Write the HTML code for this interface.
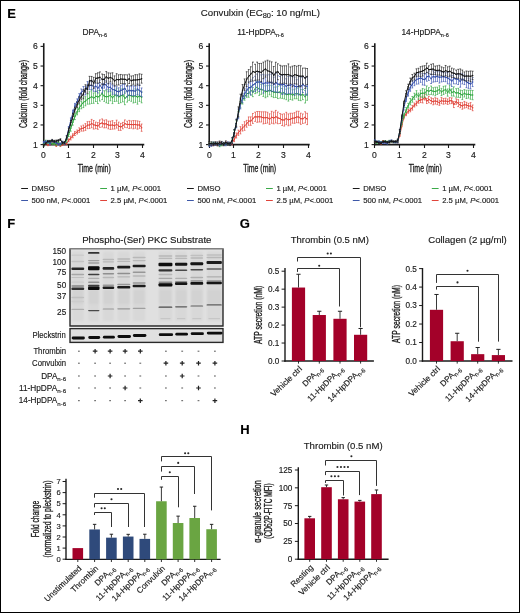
<!DOCTYPE html>
<html><head><meta charset="utf-8"><style>
html,body{margin:0;padding:0;background:#fff;}
body{width:520px;height:613px;overflow:hidden;position:relative;}
svg{position:absolute;left:0;top:0;will-change:transform;}
text{font-family:"Liberation Sans",sans-serif;stroke:currentColor;stroke-width:0.15px;}
.cond{font-weight:normal;stroke:#1a1a1a;stroke-width:0.32px;}
#frame{position:absolute;left:0;top:0;width:518px;height:611px;border:1px solid #000;}
</style></head><body>
<svg width="520" height="613" viewBox="0 0 520 613">
<text x="7.20" y="18.00" font-size="13" text-anchor="start" fill="#000" color="#000" font-weight="bold">E</text>
<text x="7.20" y="228.00" font-size="13" text-anchor="start" fill="#000" color="#000" font-weight="bold">F</text>
<text x="239.80" y="228.00" font-size="13" text-anchor="start" fill="#000" color="#000" font-weight="bold">G</text>
<text x="240.20" y="434.00" font-size="13" text-anchor="start" fill="#000" color="#000" font-weight="bold">H</text>
<text x="260.40" y="15.60" font-size="9.7" text-anchor="middle" fill="#1a1a1a" color="#1a1a1a">Convulxin (EC<tspan font-size="7.4" dy="2.1">80</tspan><tspan dy="-2.1">: 10 ng/mL)</tspan></text>
<text x="94.70" y="35.00" font-size="8.4" text-anchor="middle" fill="#1a1a1a" color="#1a1a1a">DPA<tspan font-size="5.5" dy="1.7">n-6</tspan></text>
<line x1="43.75" y1="43.20" x2="43.75" y2="145.20" stroke="#1a1a1a" stroke-width="1.6"/>
<line x1="40.55" y1="144.60" x2="43.75" y2="144.60" stroke="#1a1a1a" stroke-width="1.1"/>
<text x="37.75" y="147.50" font-size="8.6" text-anchor="end" fill="#1a1a1a" color="#1a1a1a">1</text>
<line x1="40.55" y1="124.96" x2="43.75" y2="124.96" stroke="#1a1a1a" stroke-width="1.1"/>
<text x="37.75" y="127.86" font-size="8.6" text-anchor="end" fill="#1a1a1a" color="#1a1a1a">2</text>
<line x1="40.55" y1="105.32" x2="43.75" y2="105.32" stroke="#1a1a1a" stroke-width="1.1"/>
<text x="37.75" y="108.22" font-size="8.6" text-anchor="end" fill="#1a1a1a" color="#1a1a1a">3</text>
<line x1="40.55" y1="85.68" x2="43.75" y2="85.68" stroke="#1a1a1a" stroke-width="1.1"/>
<text x="37.75" y="88.58" font-size="8.6" text-anchor="end" fill="#1a1a1a" color="#1a1a1a">4</text>
<line x1="40.55" y1="66.04" x2="43.75" y2="66.04" stroke="#1a1a1a" stroke-width="1.1"/>
<text x="37.75" y="68.94" font-size="8.6" text-anchor="end" fill="#1a1a1a" color="#1a1a1a">5</text>
<line x1="40.55" y1="46.40" x2="43.75" y2="46.40" stroke="#1a1a1a" stroke-width="1.1"/>
<text x="37.75" y="49.30" font-size="8.6" text-anchor="end" fill="#1a1a1a" color="#1a1a1a">6</text>
<line x1="42.95" y1="144.60" x2="144.25" y2="144.60" stroke="#1a1a1a" stroke-width="1.6"/>
<line x1="43.50" y1="144.60" x2="43.50" y2="148.00" stroke="#1a1a1a" stroke-width="1.1"/>
<text x="43.50" y="158.40" font-size="8.6" text-anchor="middle" fill="#1a1a1a" color="#1a1a1a">0</text>
<line x1="68.50" y1="144.60" x2="68.50" y2="148.00" stroke="#1a1a1a" stroke-width="1.1"/>
<text x="68.50" y="158.40" font-size="8.6" text-anchor="middle" fill="#1a1a1a" color="#1a1a1a">1</text>
<line x1="93.50" y1="144.60" x2="93.50" y2="148.00" stroke="#1a1a1a" stroke-width="1.1"/>
<text x="93.50" y="158.40" font-size="8.6" text-anchor="middle" fill="#1a1a1a" color="#1a1a1a">2</text>
<line x1="117.50" y1="144.60" x2="117.50" y2="148.00" stroke="#1a1a1a" stroke-width="1.1"/>
<text x="117.50" y="158.40" font-size="8.6" text-anchor="middle" fill="#1a1a1a" color="#1a1a1a">3</text>
<line x1="142.50" y1="144.60" x2="142.50" y2="148.00" stroke="#1a1a1a" stroke-width="1.1"/>
<text x="142.50" y="158.40" font-size="8.6" text-anchor="middle" fill="#1a1a1a" color="#1a1a1a">4</text>
<text x="26.75" y="94.00" font-size="10" text-anchor="middle" fill="#1a1a1a" color="#1a1a1a" font-weight="bold" textLength="68" lengthAdjust="spacingAndGlyphs" transform="rotate(-90 26.75 94.00)" class="cond">Calcium (fold change)</text>
<text x="94.25" y="172.00" font-size="10" text-anchor="middle" fill="#1a1a1a" color="#1a1a1a" font-weight="bold" textLength="33" lengthAdjust="spacingAndGlyphs" class="cond">Time (min)</text>
<line x1="21.20" y1="188.50" x2="28.00" y2="188.50" stroke="#1a1a1a" stroke-width="1.0"/>
<text x="31.60" y="191.20" font-size="7.7" text-anchor="start" fill="#1a1a1a" color="#1a1a1a">DMSO</text>
<line x1="21.20" y1="200.50" x2="28.00" y2="200.50" stroke="#3d58a8" stroke-width="1.0"/>
<text x="31.60" y="202.70" font-size="7.7" text-anchor="start" fill="#1a1a1a" color="#1a1a1a">500 nM, <tspan font-style="italic">P</tspan>&lt;.0001</text>
<line x1="100.20" y1="188.50" x2="107.00" y2="188.50" stroke="#3aaa48" stroke-width="1.0"/>
<text x="110.60" y="191.20" font-size="7.7" text-anchor="start" fill="#1a1a1a" color="#1a1a1a">1 µM, <tspan font-style="italic">P</tspan>&lt;.0001</text>
<line x1="100.20" y1="200.50" x2="107.00" y2="200.50" stroke="#e0443a" stroke-width="1.0"/>
<text x="110.60" y="202.70" font-size="7.7" text-anchor="start" fill="#1a1a1a" color="#1a1a1a">2.5 µM, <tspan font-style="italic">P</tspan>&lt;.0001</text>
<text x="260.50" y="35.00" font-size="8.4" text-anchor="middle" fill="#1a1a1a" color="#1a1a1a">11-HpDPA<tspan font-size="5.5" dy="1.7">n-6</tspan></text>
<line x1="209.20" y1="43.20" x2="209.20" y2="145.20" stroke="#1a1a1a" stroke-width="1.6"/>
<line x1="206.00" y1="144.60" x2="209.20" y2="144.60" stroke="#1a1a1a" stroke-width="1.1"/>
<text x="203.20" y="147.50" font-size="8.6" text-anchor="end" fill="#1a1a1a" color="#1a1a1a">1</text>
<line x1="206.00" y1="124.96" x2="209.20" y2="124.96" stroke="#1a1a1a" stroke-width="1.1"/>
<text x="203.20" y="127.86" font-size="8.6" text-anchor="end" fill="#1a1a1a" color="#1a1a1a">2</text>
<line x1="206.00" y1="105.32" x2="209.20" y2="105.32" stroke="#1a1a1a" stroke-width="1.1"/>
<text x="203.20" y="108.22" font-size="8.6" text-anchor="end" fill="#1a1a1a" color="#1a1a1a">3</text>
<line x1="206.00" y1="85.68" x2="209.20" y2="85.68" stroke="#1a1a1a" stroke-width="1.1"/>
<text x="203.20" y="88.58" font-size="8.6" text-anchor="end" fill="#1a1a1a" color="#1a1a1a">4</text>
<line x1="206.00" y1="66.04" x2="209.20" y2="66.04" stroke="#1a1a1a" stroke-width="1.1"/>
<text x="203.20" y="68.94" font-size="8.6" text-anchor="end" fill="#1a1a1a" color="#1a1a1a">5</text>
<line x1="206.00" y1="46.40" x2="209.20" y2="46.40" stroke="#1a1a1a" stroke-width="1.1"/>
<text x="203.20" y="49.30" font-size="8.6" text-anchor="end" fill="#1a1a1a" color="#1a1a1a">6</text>
<line x1="208.40" y1="144.60" x2="309.70" y2="144.60" stroke="#1a1a1a" stroke-width="1.6"/>
<line x1="209.50" y1="144.60" x2="209.50" y2="148.00" stroke="#1a1a1a" stroke-width="1.1"/>
<text x="209.50" y="158.40" font-size="8.6" text-anchor="middle" fill="#1a1a1a" color="#1a1a1a">0</text>
<line x1="233.50" y1="144.60" x2="233.50" y2="148.00" stroke="#1a1a1a" stroke-width="1.1"/>
<text x="233.50" y="158.40" font-size="8.6" text-anchor="middle" fill="#1a1a1a" color="#1a1a1a">1</text>
<line x1="258.50" y1="144.60" x2="258.50" y2="148.00" stroke="#1a1a1a" stroke-width="1.1"/>
<text x="258.50" y="158.40" font-size="8.6" text-anchor="middle" fill="#1a1a1a" color="#1a1a1a">2</text>
<line x1="283.50" y1="144.60" x2="283.50" y2="148.00" stroke="#1a1a1a" stroke-width="1.1"/>
<text x="283.50" y="158.40" font-size="8.6" text-anchor="middle" fill="#1a1a1a" color="#1a1a1a">3</text>
<line x1="308.50" y1="144.60" x2="308.50" y2="148.00" stroke="#1a1a1a" stroke-width="1.1"/>
<text x="308.50" y="158.40" font-size="8.6" text-anchor="middle" fill="#1a1a1a" color="#1a1a1a">4</text>
<text x="192.20" y="94.00" font-size="10" text-anchor="middle" fill="#1a1a1a" color="#1a1a1a" font-weight="bold" textLength="68" lengthAdjust="spacingAndGlyphs" transform="rotate(-90 192.20 94.00)" class="cond">Calcium (fold change)</text>
<text x="259.70" y="172.00" font-size="10" text-anchor="middle" fill="#1a1a1a" color="#1a1a1a" font-weight="bold" textLength="33" lengthAdjust="spacingAndGlyphs" class="cond">Time (min)</text>
<line x1="187.00" y1="188.50" x2="193.80" y2="188.50" stroke="#1a1a1a" stroke-width="1.0"/>
<text x="197.40" y="191.20" font-size="7.7" text-anchor="start" fill="#1a1a1a" color="#1a1a1a">DMSO</text>
<line x1="187.00" y1="200.50" x2="193.80" y2="200.50" stroke="#3d58a8" stroke-width="1.0"/>
<text x="197.40" y="202.70" font-size="7.7" text-anchor="start" fill="#1a1a1a" color="#1a1a1a">500 nM, <tspan font-style="italic">P</tspan>&lt;.0001</text>
<line x1="266.00" y1="188.50" x2="272.80" y2="188.50" stroke="#3aaa48" stroke-width="1.0"/>
<text x="276.40" y="191.20" font-size="7.7" text-anchor="start" fill="#1a1a1a" color="#1a1a1a">1 µM, <tspan font-style="italic">P</tspan>&lt;.0001</text>
<line x1="266.00" y1="200.50" x2="272.80" y2="200.50" stroke="#e0443a" stroke-width="1.0"/>
<text x="276.40" y="202.70" font-size="7.7" text-anchor="start" fill="#1a1a1a" color="#1a1a1a">2.5 µM, <tspan font-style="italic">P</tspan>&lt;.0001</text>
<text x="425.10" y="35.00" font-size="8.4" text-anchor="middle" fill="#1a1a1a" color="#1a1a1a">14-HpDPA<tspan font-size="5.5" dy="1.7">n-6</tspan></text>
<line x1="374.80" y1="43.20" x2="374.80" y2="145.20" stroke="#1a1a1a" stroke-width="1.6"/>
<line x1="371.60" y1="144.60" x2="374.80" y2="144.60" stroke="#1a1a1a" stroke-width="1.1"/>
<text x="368.80" y="147.50" font-size="8.6" text-anchor="end" fill="#1a1a1a" color="#1a1a1a">1</text>
<line x1="371.60" y1="124.96" x2="374.80" y2="124.96" stroke="#1a1a1a" stroke-width="1.1"/>
<text x="368.80" y="127.86" font-size="8.6" text-anchor="end" fill="#1a1a1a" color="#1a1a1a">2</text>
<line x1="371.60" y1="105.32" x2="374.80" y2="105.32" stroke="#1a1a1a" stroke-width="1.1"/>
<text x="368.80" y="108.22" font-size="8.6" text-anchor="end" fill="#1a1a1a" color="#1a1a1a">3</text>
<line x1="371.60" y1="85.68" x2="374.80" y2="85.68" stroke="#1a1a1a" stroke-width="1.1"/>
<text x="368.80" y="88.58" font-size="8.6" text-anchor="end" fill="#1a1a1a" color="#1a1a1a">4</text>
<line x1="371.60" y1="66.04" x2="374.80" y2="66.04" stroke="#1a1a1a" stroke-width="1.1"/>
<text x="368.80" y="68.94" font-size="8.6" text-anchor="end" fill="#1a1a1a" color="#1a1a1a">5</text>
<line x1="371.60" y1="46.40" x2="374.80" y2="46.40" stroke="#1a1a1a" stroke-width="1.1"/>
<text x="368.80" y="49.30" font-size="8.6" text-anchor="end" fill="#1a1a1a" color="#1a1a1a">6</text>
<line x1="374.00" y1="144.60" x2="475.30" y2="144.60" stroke="#1a1a1a" stroke-width="1.6"/>
<line x1="374.50" y1="144.60" x2="374.50" y2="148.00" stroke="#1a1a1a" stroke-width="1.1"/>
<text x="374.50" y="158.40" font-size="8.6" text-anchor="middle" fill="#1a1a1a" color="#1a1a1a">0</text>
<line x1="399.50" y1="144.60" x2="399.50" y2="148.00" stroke="#1a1a1a" stroke-width="1.1"/>
<text x="399.50" y="158.40" font-size="8.6" text-anchor="middle" fill="#1a1a1a" color="#1a1a1a">1</text>
<line x1="424.50" y1="144.60" x2="424.50" y2="148.00" stroke="#1a1a1a" stroke-width="1.1"/>
<text x="424.50" y="158.40" font-size="8.6" text-anchor="middle" fill="#1a1a1a" color="#1a1a1a">2</text>
<line x1="448.50" y1="144.60" x2="448.50" y2="148.00" stroke="#1a1a1a" stroke-width="1.1"/>
<text x="448.50" y="158.40" font-size="8.6" text-anchor="middle" fill="#1a1a1a" color="#1a1a1a">3</text>
<line x1="473.50" y1="144.60" x2="473.50" y2="148.00" stroke="#1a1a1a" stroke-width="1.1"/>
<text x="473.50" y="158.40" font-size="8.6" text-anchor="middle" fill="#1a1a1a" color="#1a1a1a">4</text>
<text x="357.80" y="94.00" font-size="10" text-anchor="middle" fill="#1a1a1a" color="#1a1a1a" font-weight="bold" textLength="68" lengthAdjust="spacingAndGlyphs" transform="rotate(-90 357.80 94.00)" class="cond">Calcium (fold change)</text>
<text x="425.30" y="172.00" font-size="10" text-anchor="middle" fill="#1a1a1a" color="#1a1a1a" font-weight="bold" textLength="33" lengthAdjust="spacingAndGlyphs" class="cond">Time (min)</text>
<line x1="352.80" y1="188.50" x2="359.60" y2="188.50" stroke="#1a1a1a" stroke-width="1.0"/>
<text x="363.20" y="191.20" font-size="7.7" text-anchor="start" fill="#1a1a1a" color="#1a1a1a">DMSO</text>
<line x1="352.80" y1="200.50" x2="359.60" y2="200.50" stroke="#3d58a8" stroke-width="1.0"/>
<text x="363.20" y="202.70" font-size="7.7" text-anchor="start" fill="#1a1a1a" color="#1a1a1a">500 nM, <tspan font-style="italic">P</tspan>&lt;.0001</text>
<line x1="431.80" y1="188.50" x2="438.60" y2="188.50" stroke="#3aaa48" stroke-width="1.0"/>
<text x="442.20" y="191.20" font-size="7.7" text-anchor="start" fill="#1a1a1a" color="#1a1a1a">1 µM, <tspan font-style="italic">P</tspan>&lt;.0001</text>
<line x1="431.80" y1="200.50" x2="438.60" y2="200.50" stroke="#e0443a" stroke-width="1.0"/>
<text x="442.20" y="202.70" font-size="7.7" text-anchor="start" fill="#1a1a1a" color="#1a1a1a">2.5 µM, <tspan font-style="italic">P</tspan>&lt;.0001</text>
<path d="M43.50 143.75V145.16M45.50 143.12V144.29M47.50 144.54V145.70M49.50 143.74V145.09M52.50 142.61V143.77M54.50 143.38V144.55M56.50 145.25V146.44M58.50 142.75V143.98M60.50 145.18V146.56M62.50 144.07V145.37M64.50 143.37V144.86M66.50 142.12V144.55M68.50 138.87V141.69M70.50 136.12V139.86M72.50 133.77V137.74M74.50 131.48V135.52M77.50 130.05V134.01M79.50 127.89V132.43M81.50 126.03V131.12M83.50 125.14V131.11M85.50 123.61V130.39M87.50 121.66V128.68M89.50 121.40V128.46M91.50 119.40V127.68M93.50 120.50V129.10M95.50 122.11V128.67M97.50 122.62V129.27M99.50 119.91V127.35M102.50 118.94V127.03M104.50 120.20V127.84M106.50 119.80V127.73M108.50 121.13V128.81M110.50 121.19V129.45M112.50 120.64V129.15M114.50 122.59V129.02M116.50 120.17V128.10M118.50 122.13V130.35M120.50 123.41V130.36M122.50 122.42V128.75M124.50 119.94V127.32M127.50 121.27V127.69M129.50 120.40V128.49M131.50 120.92V128.13M133.50 120.50V128.84M135.50 120.66V128.24M137.50 120.86V129.22M139.50 121.43V128.37M141.50 124.02V131.29" stroke="#e4615a" stroke-width="0.75" fill="none"/>
<path d="M42.85 143.75h1.8M42.85 145.16h1.8M44.93 143.12h1.8M44.93 144.29h1.8M47.02 144.54h1.8M47.02 145.70h1.8M49.10 143.74h1.8M49.10 145.09h1.8M51.18 142.61h1.8M51.18 143.77h1.8M53.26 143.38h1.8M53.26 144.55h1.8M55.35 145.25h1.8M55.35 146.44h1.8M57.43 142.75h1.8M57.43 143.98h1.8M59.51 145.18h1.8M59.51 146.56h1.8M61.60 144.07h1.8M61.60 145.37h1.8M63.68 143.37h1.8M63.68 144.86h1.8M65.76 142.12h1.8M65.76 144.55h1.8M67.84 138.87h1.8M67.84 141.69h1.8M69.93 136.12h1.8M69.93 139.86h1.8M72.01 133.77h1.8M72.01 137.74h1.8M74.09 131.48h1.8M74.09 135.52h1.8M76.17 130.05h1.8M76.17 134.01h1.8M78.26 127.89h1.8M78.26 132.43h1.8M80.34 126.03h1.8M80.34 131.12h1.8M82.42 125.14h1.8M82.42 131.11h1.8M84.51 123.61h1.8M84.51 130.39h1.8M86.59 121.66h1.8M86.59 128.68h1.8M88.67 121.40h1.8M88.67 128.46h1.8M90.75 119.40h1.8M90.75 127.68h1.8M92.84 120.50h1.8M92.84 129.10h1.8M94.92 122.11h1.8M94.92 128.67h1.8M97.00 122.62h1.8M97.00 129.27h1.8M99.09 119.91h1.8M99.09 127.35h1.8M101.17 118.94h1.8M101.17 127.03h1.8M103.25 120.20h1.8M103.25 127.84h1.8M105.33 119.80h1.8M105.33 127.73h1.8M107.42 121.13h1.8M107.42 128.81h1.8M109.50 121.19h1.8M109.50 129.45h1.8M111.58 120.64h1.8M111.58 129.15h1.8M113.66 122.59h1.8M113.66 129.02h1.8M115.75 120.17h1.8M115.75 128.10h1.8M117.83 122.13h1.8M117.83 130.35h1.8M119.91 123.41h1.8M119.91 130.36h1.8M122.00 122.42h1.8M122.00 128.75h1.8M124.08 119.94h1.8M124.08 127.32h1.8M126.16 121.27h1.8M126.16 127.69h1.8M128.24 120.40h1.8M128.24 128.49h1.8M130.33 120.92h1.8M130.33 128.13h1.8M132.41 120.50h1.8M132.41 128.84h1.8M134.49 120.66h1.8M134.49 128.24h1.8M136.58 120.86h1.8M136.58 129.22h1.8M138.66 121.43h1.8M138.66 128.37h1.8M140.74 124.02h1.8M140.74 131.29h1.8" stroke="#e0443a" stroke-opacity="0.75" stroke-width="0.9" fill="none"/>
<path d="M43.75 144.46 L45.83 143.70 L47.92 145.12 L50.00 144.42 L52.08 143.19 L54.16 143.96 L56.25 145.84 L58.33 143.37 L60.41 145.87 L62.50 144.72 L64.58 144.12 L66.66 143.33 L68.74 140.28 L70.83 137.99 L72.91 135.76 L74.99 133.50 L77.07 132.03 L79.16 130.16 L81.24 128.58 L83.32 128.13 L85.41 127.00 L87.49 125.17 L89.57 124.93 L91.65 123.54 L93.74 124.80 L95.82 125.39 L97.90 125.94 L99.99 123.63 L102.07 122.98 L104.15 124.02 L106.23 123.77 L108.32 124.97 L110.40 125.32 L112.48 124.89 L114.56 125.80 L116.65 124.14 L118.73 126.24 L120.81 126.88 L122.90 125.59 L124.98 123.63 L127.06 124.48 L129.14 124.45 L131.23 124.53 L133.31 124.67 L135.39 124.45 L137.48 125.04 L139.56 124.90 L141.64 127.66" stroke="#e0443a" stroke-width="1" fill="none" stroke-linejoin="round"/>
<g fill="#e0443a"><circle cx="43.75" cy="144.46" r="0.75"/><circle cx="45.83" cy="143.70" r="0.75"/><circle cx="47.92" cy="145.12" r="0.75"/><circle cx="50.00" cy="144.42" r="0.75"/><circle cx="52.08" cy="143.19" r="0.75"/><circle cx="54.16" cy="143.96" r="0.75"/><circle cx="56.25" cy="145.84" r="0.75"/><circle cx="58.33" cy="143.37" r="0.75"/><circle cx="60.41" cy="145.87" r="0.75"/><circle cx="62.50" cy="144.72" r="0.75"/><circle cx="64.58" cy="144.12" r="0.75"/><circle cx="66.66" cy="143.33" r="0.75"/><circle cx="68.74" cy="140.28" r="0.75"/><circle cx="70.83" cy="137.99" r="0.75"/><circle cx="72.91" cy="135.76" r="0.75"/><circle cx="74.99" cy="133.50" r="0.75"/><circle cx="77.07" cy="132.03" r="0.75"/><circle cx="79.16" cy="130.16" r="0.75"/><circle cx="81.24" cy="128.58" r="0.75"/><circle cx="83.32" cy="128.13" r="0.75"/><circle cx="85.41" cy="127.00" r="0.75"/><circle cx="87.49" cy="125.17" r="0.75"/><circle cx="89.57" cy="124.93" r="0.75"/><circle cx="91.65" cy="123.54" r="0.75"/><circle cx="93.74" cy="124.80" r="0.75"/><circle cx="95.82" cy="125.39" r="0.75"/><circle cx="97.90" cy="125.94" r="0.75"/><circle cx="99.99" cy="123.63" r="0.75"/><circle cx="102.07" cy="122.98" r="0.75"/><circle cx="104.15" cy="124.02" r="0.75"/><circle cx="106.23" cy="123.77" r="0.75"/><circle cx="108.32" cy="124.97" r="0.75"/><circle cx="110.40" cy="125.32" r="0.75"/><circle cx="112.48" cy="124.89" r="0.75"/><circle cx="114.56" cy="125.80" r="0.75"/><circle cx="116.65" cy="124.14" r="0.75"/><circle cx="118.73" cy="126.24" r="0.75"/><circle cx="120.81" cy="126.88" r="0.75"/><circle cx="122.90" cy="125.59" r="0.75"/><circle cx="124.98" cy="123.63" r="0.75"/><circle cx="127.06" cy="124.48" r="0.75"/><circle cx="129.14" cy="124.45" r="0.75"/><circle cx="131.23" cy="124.53" r="0.75"/><circle cx="133.31" cy="124.67" r="0.75"/><circle cx="135.39" cy="124.45" r="0.75"/><circle cx="137.48" cy="125.04" r="0.75"/><circle cx="139.56" cy="124.90" r="0.75"/><circle cx="141.64" cy="127.66" r="0.75"/></g>
<path d="M43.50 143.34V145.80M45.50 140.18V142.09M47.50 141.66V143.63M49.50 141.19V143.33M52.50 142.90V144.71M54.50 142.47V144.56M56.50 142.84V145.29M58.50 140.77V143.05M60.50 143.52V145.79M62.50 142.15V144.00M64.50 141.33V143.73M66.50 137.97V142.52M68.50 132.30V136.50M70.50 125.47V131.15M72.50 119.58V125.11M74.50 113.57V119.58M77.50 108.66V114.87M79.50 104.52V111.64M81.50 101.46V108.81M83.50 97.21V107.59M85.50 96.67V105.82M87.50 94.10V104.16M89.50 91.68V104.12M91.50 89.79V103.48M93.50 92.91V103.29M95.50 91.06V101.50M97.50 90.40V103.58M99.50 90.38V101.04M102.50 87.59V99.64M104.50 90.76V101.37M106.50 90.72V102.77M108.50 89.68V103.43M110.50 89.77V100.81M112.50 92.14V103.58M114.50 89.44V101.51M116.50 88.23V101.22M118.50 90.33V103.44M120.50 88.88V102.65M122.50 88.67V101.81M124.50 91.85V104.69M127.50 90.71V102.10M129.50 90.18V100.34M131.50 90.28V101.31M133.50 90.30V102.96M135.50 88.83V102.42M137.50 90.38V104.17M139.50 90.47V101.36M141.50 91.90V102.82" stroke="#55b862" stroke-width="0.75" fill="none"/>
<path d="M42.85 143.34h1.8M42.85 145.80h1.8M44.93 140.18h1.8M44.93 142.09h1.8M47.02 141.66h1.8M47.02 143.63h1.8M49.10 141.19h1.8M49.10 143.33h1.8M51.18 142.90h1.8M51.18 144.71h1.8M53.26 142.47h1.8M53.26 144.56h1.8M55.35 142.84h1.8M55.35 145.29h1.8M57.43 140.77h1.8M57.43 143.05h1.8M59.51 143.52h1.8M59.51 145.79h1.8M61.60 142.15h1.8M61.60 144.00h1.8M63.68 141.33h1.8M63.68 143.73h1.8M65.76 137.97h1.8M65.76 142.52h1.8M67.84 132.30h1.8M67.84 136.50h1.8M69.93 125.47h1.8M69.93 131.15h1.8M72.01 119.58h1.8M72.01 125.11h1.8M74.09 113.57h1.8M74.09 119.58h1.8M76.17 108.66h1.8M76.17 114.87h1.8M78.26 104.52h1.8M78.26 111.64h1.8M80.34 101.46h1.8M80.34 108.81h1.8M82.42 97.21h1.8M82.42 107.59h1.8M84.51 96.67h1.8M84.51 105.82h1.8M86.59 94.10h1.8M86.59 104.16h1.8M88.67 91.68h1.8M88.67 104.12h1.8M90.75 89.79h1.8M90.75 103.48h1.8M92.84 92.91h1.8M92.84 103.29h1.8M94.92 91.06h1.8M94.92 101.50h1.8M97.00 90.40h1.8M97.00 103.58h1.8M99.09 90.38h1.8M99.09 101.04h1.8M101.17 87.59h1.8M101.17 99.64h1.8M103.25 90.76h1.8M103.25 101.37h1.8M105.33 90.72h1.8M105.33 102.77h1.8M107.42 89.68h1.8M107.42 103.43h1.8M109.50 89.77h1.8M109.50 100.81h1.8M111.58 92.14h1.8M111.58 103.58h1.8M113.66 89.44h1.8M113.66 101.51h1.8M115.75 88.23h1.8M115.75 101.22h1.8M117.83 90.33h1.8M117.83 103.44h1.8M119.91 88.88h1.8M119.91 102.65h1.8M122.00 88.67h1.8M122.00 101.81h1.8M124.08 91.85h1.8M124.08 104.69h1.8M126.16 90.71h1.8M126.16 102.10h1.8M128.24 90.18h1.8M128.24 100.34h1.8M130.33 90.28h1.8M130.33 101.31h1.8M132.41 90.30h1.8M132.41 102.96h1.8M134.49 88.83h1.8M134.49 102.42h1.8M136.58 90.38h1.8M136.58 104.17h1.8M138.66 90.47h1.8M138.66 101.36h1.8M140.74 91.90h1.8M140.74 102.82h1.8" stroke="#35a844" stroke-opacity="0.75" stroke-width="0.9" fill="none"/>
<path d="M43.75 144.57 L45.83 141.13 L47.92 142.65 L50.00 142.26 L52.08 143.81 L54.16 143.52 L56.25 144.07 L58.33 141.91 L60.41 144.65 L62.50 143.08 L64.58 142.53 L66.66 140.25 L68.74 134.40 L70.83 128.31 L72.91 122.34 L74.99 116.57 L77.07 111.77 L79.16 108.08 L81.24 105.14 L83.32 102.40 L85.41 101.24 L87.49 99.13 L89.57 97.90 L91.65 96.64 L93.74 98.10 L95.82 96.28 L97.90 96.99 L99.99 95.71 L102.07 93.62 L104.15 96.06 L106.23 96.75 L108.32 96.56 L110.40 95.29 L112.48 97.86 L114.56 95.47 L116.65 94.72 L118.73 96.89 L120.81 95.76 L122.90 95.24 L124.98 98.27 L127.06 96.41 L129.14 95.26 L131.23 95.79 L133.31 96.63 L135.39 95.63 L137.48 97.27 L139.56 95.91 L141.64 97.36" stroke="#35a844" stroke-width="1" fill="none" stroke-linejoin="round"/>
<g fill="#35a844"><circle cx="43.75" cy="144.57" r="0.75"/><circle cx="45.83" cy="141.13" r="0.75"/><circle cx="47.92" cy="142.65" r="0.75"/><circle cx="50.00" cy="142.26" r="0.75"/><circle cx="52.08" cy="143.81" r="0.75"/><circle cx="54.16" cy="143.52" r="0.75"/><circle cx="56.25" cy="144.07" r="0.75"/><circle cx="58.33" cy="141.91" r="0.75"/><circle cx="60.41" cy="144.65" r="0.75"/><circle cx="62.50" cy="143.08" r="0.75"/><circle cx="64.58" cy="142.53" r="0.75"/><circle cx="66.66" cy="140.25" r="0.75"/><circle cx="68.74" cy="134.40" r="0.75"/><circle cx="70.83" cy="128.31" r="0.75"/><circle cx="72.91" cy="122.34" r="0.75"/><circle cx="74.99" cy="116.57" r="0.75"/><circle cx="77.07" cy="111.77" r="0.75"/><circle cx="79.16" cy="108.08" r="0.75"/><circle cx="81.24" cy="105.14" r="0.75"/><circle cx="83.32" cy="102.40" r="0.75"/><circle cx="85.41" cy="101.24" r="0.75"/><circle cx="87.49" cy="99.13" r="0.75"/><circle cx="89.57" cy="97.90" r="0.75"/><circle cx="91.65" cy="96.64" r="0.75"/><circle cx="93.74" cy="98.10" r="0.75"/><circle cx="95.82" cy="96.28" r="0.75"/><circle cx="97.90" cy="96.99" r="0.75"/><circle cx="99.99" cy="95.71" r="0.75"/><circle cx="102.07" cy="93.62" r="0.75"/><circle cx="104.15" cy="96.06" r="0.75"/><circle cx="106.23" cy="96.75" r="0.75"/><circle cx="108.32" cy="96.56" r="0.75"/><circle cx="110.40" cy="95.29" r="0.75"/><circle cx="112.48" cy="97.86" r="0.75"/><circle cx="114.56" cy="95.47" r="0.75"/><circle cx="116.65" cy="94.72" r="0.75"/><circle cx="118.73" cy="96.89" r="0.75"/><circle cx="120.81" cy="95.76" r="0.75"/><circle cx="122.90" cy="95.24" r="0.75"/><circle cx="124.98" cy="98.27" r="0.75"/><circle cx="127.06" cy="96.41" r="0.75"/><circle cx="129.14" cy="95.26" r="0.75"/><circle cx="131.23" cy="95.79" r="0.75"/><circle cx="133.31" cy="96.63" r="0.75"/><circle cx="135.39" cy="95.63" r="0.75"/><circle cx="137.48" cy="97.27" r="0.75"/><circle cx="139.56" cy="95.91" r="0.75"/><circle cx="141.64" cy="97.36" r="0.75"/></g>
<path d="M43.50 141.46V143.20M45.50 140.81V142.70M47.50 140.91V142.67M49.50 143.04V144.88M52.50 139.95V141.84M54.50 140.70V142.52M56.50 141.88V143.39M58.50 143.29V145.12M60.50 142.90V144.82M62.50 141.18V142.80M64.50 142.55V144.35M66.50 135.74V138.66M68.50 126.55V130.78M70.50 117.88V122.54M72.50 110.05V115.53M74.50 103.39V108.91M77.50 98.98V104.06M79.50 93.68V98.98M81.50 89.00V95.82M83.50 86.55V94.80M85.50 86.43V94.99M87.50 81.57V89.07M89.50 81.68V89.72M91.50 80.27V89.78M93.50 83.12V91.36M95.50 80.94V91.48M97.50 83.40V92.97M99.50 79.98V90.50M102.50 83.57V92.90M104.50 78.68V88.10M106.50 80.64V89.79M108.50 83.43V91.83M110.50 82.96V91.32M112.50 84.92V94.17M114.50 85.47V94.29M116.50 86.65V96.03M118.50 87.79V95.96M120.50 85.68V95.18M122.50 84.53V94.66M124.50 83.83V93.18M127.50 86.49V97.03M129.50 85.91V95.07M131.50 86.17V95.53M133.50 85.72V95.62M135.50 86.60V95.86M137.50 83.79V94.42M139.50 85.17V95.81M141.50 87.97V96.59" stroke="#5d72c4" stroke-width="0.75" fill="none"/>
<path d="M42.85 141.46h1.8M42.85 143.20h1.8M44.93 140.81h1.8M44.93 142.70h1.8M47.02 140.91h1.8M47.02 142.67h1.8M49.10 143.04h1.8M49.10 144.88h1.8M51.18 139.95h1.8M51.18 141.84h1.8M53.26 140.70h1.8M53.26 142.52h1.8M55.35 141.88h1.8M55.35 143.39h1.8M57.43 143.29h1.8M57.43 145.12h1.8M59.51 142.90h1.8M59.51 144.82h1.8M61.60 141.18h1.8M61.60 142.80h1.8M63.68 142.55h1.8M63.68 144.35h1.8M65.76 135.74h1.8M65.76 138.66h1.8M67.84 126.55h1.8M67.84 130.78h1.8M69.93 117.88h1.8M69.93 122.54h1.8M72.01 110.05h1.8M72.01 115.53h1.8M74.09 103.39h1.8M74.09 108.91h1.8M76.17 98.98h1.8M76.17 104.06h1.8M78.26 93.68h1.8M78.26 98.98h1.8M80.34 89.00h1.8M80.34 95.82h1.8M82.42 86.55h1.8M82.42 94.80h1.8M84.51 86.43h1.8M84.51 94.99h1.8M86.59 81.57h1.8M86.59 89.07h1.8M88.67 81.68h1.8M88.67 89.72h1.8M90.75 80.27h1.8M90.75 89.78h1.8M92.84 83.12h1.8M92.84 91.36h1.8M94.92 80.94h1.8M94.92 91.48h1.8M97.00 83.40h1.8M97.00 92.97h1.8M99.09 79.98h1.8M99.09 90.50h1.8M101.17 83.57h1.8M101.17 92.90h1.8M103.25 78.68h1.8M103.25 88.10h1.8M105.33 80.64h1.8M105.33 89.79h1.8M107.42 83.43h1.8M107.42 91.83h1.8M109.50 82.96h1.8M109.50 91.32h1.8M111.58 84.92h1.8M111.58 94.17h1.8M113.66 85.47h1.8M113.66 94.29h1.8M115.75 86.65h1.8M115.75 96.03h1.8M117.83 87.79h1.8M117.83 95.96h1.8M119.91 85.68h1.8M119.91 95.18h1.8M122.00 84.53h1.8M122.00 94.66h1.8M124.08 83.83h1.8M124.08 93.18h1.8M126.16 86.49h1.8M126.16 97.03h1.8M128.24 85.91h1.8M128.24 95.07h1.8M130.33 86.17h1.8M130.33 95.53h1.8M132.41 85.72h1.8M132.41 95.62h1.8M134.49 86.60h1.8M134.49 95.86h1.8M136.58 83.79h1.8M136.58 94.42h1.8M138.66 85.17h1.8M138.66 95.81h1.8M140.74 87.97h1.8M140.74 96.59h1.8" stroke="#3550a8" stroke-opacity="0.75" stroke-width="0.9" fill="none"/>
<path d="M43.75 142.33 L45.83 141.76 L47.92 141.79 L50.00 143.96 L52.08 140.89 L54.16 141.61 L56.25 142.63 L58.33 144.20 L60.41 143.86 L62.50 141.99 L64.58 143.45 L66.66 137.20 L68.74 128.67 L70.83 120.21 L72.91 112.79 L74.99 106.15 L77.07 101.52 L79.16 96.33 L81.24 92.41 L83.32 90.67 L85.41 90.71 L87.49 85.32 L89.57 85.70 L91.65 85.02 L93.74 87.24 L95.82 86.21 L97.90 88.18 L99.99 85.24 L102.07 88.24 L104.15 83.39 L106.23 85.22 L108.32 87.63 L110.40 87.14 L112.48 89.55 L114.56 89.88 L116.65 91.34 L118.73 91.87 L120.81 90.43 L122.90 89.60 L124.98 88.50 L127.06 91.76 L129.14 90.49 L131.23 90.85 L133.31 90.67 L135.39 91.23 L137.48 89.11 L139.56 90.49 L141.64 92.28" stroke="#3550a8" stroke-width="1" fill="none" stroke-linejoin="round"/>
<g fill="#3550a8"><circle cx="43.75" cy="142.33" r="0.75"/><circle cx="45.83" cy="141.76" r="0.75"/><circle cx="47.92" cy="141.79" r="0.75"/><circle cx="50.00" cy="143.96" r="0.75"/><circle cx="52.08" cy="140.89" r="0.75"/><circle cx="54.16" cy="141.61" r="0.75"/><circle cx="56.25" cy="142.63" r="0.75"/><circle cx="58.33" cy="144.20" r="0.75"/><circle cx="60.41" cy="143.86" r="0.75"/><circle cx="62.50" cy="141.99" r="0.75"/><circle cx="64.58" cy="143.45" r="0.75"/><circle cx="66.66" cy="137.20" r="0.75"/><circle cx="68.74" cy="128.67" r="0.75"/><circle cx="70.83" cy="120.21" r="0.75"/><circle cx="72.91" cy="112.79" r="0.75"/><circle cx="74.99" cy="106.15" r="0.75"/><circle cx="77.07" cy="101.52" r="0.75"/><circle cx="79.16" cy="96.33" r="0.75"/><circle cx="81.24" cy="92.41" r="0.75"/><circle cx="83.32" cy="90.67" r="0.75"/><circle cx="85.41" cy="90.71" r="0.75"/><circle cx="87.49" cy="85.32" r="0.75"/><circle cx="89.57" cy="85.70" r="0.75"/><circle cx="91.65" cy="85.02" r="0.75"/><circle cx="93.74" cy="87.24" r="0.75"/><circle cx="95.82" cy="86.21" r="0.75"/><circle cx="97.90" cy="88.18" r="0.75"/><circle cx="99.99" cy="85.24" r="0.75"/><circle cx="102.07" cy="88.24" r="0.75"/><circle cx="104.15" cy="83.39" r="0.75"/><circle cx="106.23" cy="85.22" r="0.75"/><circle cx="108.32" cy="87.63" r="0.75"/><circle cx="110.40" cy="87.14" r="0.75"/><circle cx="112.48" cy="89.55" r="0.75"/><circle cx="114.56" cy="89.88" r="0.75"/><circle cx="116.65" cy="91.34" r="0.75"/><circle cx="118.73" cy="91.87" r="0.75"/><circle cx="120.81" cy="90.43" r="0.75"/><circle cx="122.90" cy="89.60" r="0.75"/><circle cx="124.98" cy="88.50" r="0.75"/><circle cx="127.06" cy="91.76" r="0.75"/><circle cx="129.14" cy="90.49" r="0.75"/><circle cx="131.23" cy="90.85" r="0.75"/><circle cx="133.31" cy="90.67" r="0.75"/><circle cx="135.39" cy="91.23" r="0.75"/><circle cx="137.48" cy="89.11" r="0.75"/><circle cx="139.56" cy="90.49" r="0.75"/><circle cx="141.64" cy="92.28" r="0.75"/></g>
<path d="M43.50 144.30V146.31M45.50 142.64V144.25M47.50 140.39V141.96M49.50 140.38V142.05M52.50 139.42V141.40M54.50 140.32V142.36M56.50 140.06V141.96M58.50 139.64V141.25M60.50 138.75V140.40M62.50 141.93V144.00M64.50 141.58V143.67M66.50 135.83V139.71M68.50 128.09V132.17M70.50 120.64V125.00M72.50 113.64V119.14M74.50 107.30V112.12M77.50 102.17V107.44M79.50 96.95V103.34M81.50 93.67V99.96M83.50 89.72V98.76M85.50 84.75V92.08M87.50 85.10V93.35M89.50 76.36V85.13M91.50 76.46V85.29M93.50 77.36V88.45M95.50 73.71V83.02M97.50 72.82V83.12M99.50 71.94V82.66M102.50 74.05V84.72M104.50 74.62V84.45M106.50 71.62V82.12M108.50 72.84V83.88M110.50 73.10V81.79M112.50 72.81V84.04M114.50 75.86V86.11M116.50 73.71V85.15M118.50 74.79V84.95M120.50 74.46V83.70M122.50 74.86V83.51M124.50 74.76V83.89M127.50 74.87V85.77M129.50 74.12V83.53M131.50 76.02V85.61M133.50 75.73V84.27M135.50 74.63V85.45M137.50 74.72V84.96M139.50 73.82V85.28M141.50 74.30V83.13" stroke="#555555" stroke-width="0.75" fill="none"/>
<path d="M42.85 144.30h1.8M42.85 146.31h1.8M44.93 142.64h1.8M44.93 144.25h1.8M47.02 140.39h1.8M47.02 141.96h1.8M49.10 140.38h1.8M49.10 142.05h1.8M51.18 139.42h1.8M51.18 141.40h1.8M53.26 140.32h1.8M53.26 142.36h1.8M55.35 140.06h1.8M55.35 141.96h1.8M57.43 139.64h1.8M57.43 141.25h1.8M59.51 138.75h1.8M59.51 140.40h1.8M61.60 141.93h1.8M61.60 144.00h1.8M63.68 141.58h1.8M63.68 143.67h1.8M65.76 135.83h1.8M65.76 139.71h1.8M67.84 128.09h1.8M67.84 132.17h1.8M69.93 120.64h1.8M69.93 125.00h1.8M72.01 113.64h1.8M72.01 119.14h1.8M74.09 107.30h1.8M74.09 112.12h1.8M76.17 102.17h1.8M76.17 107.44h1.8M78.26 96.95h1.8M78.26 103.34h1.8M80.34 93.67h1.8M80.34 99.96h1.8M82.42 89.72h1.8M82.42 98.76h1.8M84.51 84.75h1.8M84.51 92.08h1.8M86.59 85.10h1.8M86.59 93.35h1.8M88.67 76.36h1.8M88.67 85.13h1.8M90.75 76.46h1.8M90.75 85.29h1.8M92.84 77.36h1.8M92.84 88.45h1.8M94.92 73.71h1.8M94.92 83.02h1.8M97.00 72.82h1.8M97.00 83.12h1.8M99.09 71.94h1.8M99.09 82.66h1.8M101.17 74.05h1.8M101.17 84.72h1.8M103.25 74.62h1.8M103.25 84.45h1.8M105.33 71.62h1.8M105.33 82.12h1.8M107.42 72.84h1.8M107.42 83.88h1.8M109.50 73.10h1.8M109.50 81.79h1.8M111.58 72.81h1.8M111.58 84.04h1.8M113.66 75.86h1.8M113.66 86.11h1.8M115.75 73.71h1.8M115.75 85.15h1.8M117.83 74.79h1.8M117.83 84.95h1.8M119.91 74.46h1.8M119.91 83.70h1.8M122.00 74.86h1.8M122.00 83.51h1.8M124.08 74.76h1.8M124.08 83.89h1.8M126.16 74.87h1.8M126.16 85.77h1.8M128.24 74.12h1.8M128.24 83.53h1.8M130.33 76.02h1.8M130.33 85.61h1.8M132.41 75.73h1.8M132.41 84.27h1.8M134.49 74.63h1.8M134.49 85.45h1.8M136.58 74.72h1.8M136.58 84.96h1.8M138.66 73.82h1.8M138.66 85.28h1.8M140.74 74.30h1.8M140.74 83.13h1.8" stroke="#151515" stroke-opacity="0.75" stroke-width="0.9" fill="none"/>
<path d="M43.75 145.31 L45.83 143.45 L47.92 141.17 L50.00 141.22 L52.08 140.41 L54.16 141.34 L56.25 141.01 L58.33 140.44 L60.41 139.58 L62.50 142.97 L64.58 142.63 L66.66 137.77 L68.74 130.13 L70.83 122.82 L72.91 116.39 L74.99 109.71 L77.07 104.80 L79.16 100.14 L81.24 96.82 L83.32 94.24 L85.41 88.42 L87.49 89.22 L89.57 80.74 L91.65 80.87 L93.74 82.91 L95.82 78.37 L97.90 77.97 L99.99 77.30 L102.07 79.39 L104.15 79.54 L106.23 76.87 L108.32 78.36 L110.40 77.45 L112.48 78.43 L114.56 80.99 L116.65 79.43 L118.73 79.87 L120.81 79.08 L122.90 79.19 L124.98 79.33 L127.06 80.32 L129.14 78.83 L131.23 80.82 L133.31 80.00 L135.39 80.04 L137.48 79.84 L139.56 79.55 L141.64 78.72" stroke="#151515" stroke-width="1" fill="none" stroke-linejoin="round"/>
<g fill="#151515"><circle cx="43.75" cy="145.31" r="0.75"/><circle cx="45.83" cy="143.45" r="0.75"/><circle cx="47.92" cy="141.17" r="0.75"/><circle cx="50.00" cy="141.22" r="0.75"/><circle cx="52.08" cy="140.41" r="0.75"/><circle cx="54.16" cy="141.34" r="0.75"/><circle cx="56.25" cy="141.01" r="0.75"/><circle cx="58.33" cy="140.44" r="0.75"/><circle cx="60.41" cy="139.58" r="0.75"/><circle cx="62.50" cy="142.97" r="0.75"/><circle cx="64.58" cy="142.63" r="0.75"/><circle cx="66.66" cy="137.77" r="0.75"/><circle cx="68.74" cy="130.13" r="0.75"/><circle cx="70.83" cy="122.82" r="0.75"/><circle cx="72.91" cy="116.39" r="0.75"/><circle cx="74.99" cy="109.71" r="0.75"/><circle cx="77.07" cy="104.80" r="0.75"/><circle cx="79.16" cy="100.14" r="0.75"/><circle cx="81.24" cy="96.82" r="0.75"/><circle cx="83.32" cy="94.24" r="0.75"/><circle cx="85.41" cy="88.42" r="0.75"/><circle cx="87.49" cy="89.22" r="0.75"/><circle cx="89.57" cy="80.74" r="0.75"/><circle cx="91.65" cy="80.87" r="0.75"/><circle cx="93.74" cy="82.91" r="0.75"/><circle cx="95.82" cy="78.37" r="0.75"/><circle cx="97.90" cy="77.97" r="0.75"/><circle cx="99.99" cy="77.30" r="0.75"/><circle cx="102.07" cy="79.39" r="0.75"/><circle cx="104.15" cy="79.54" r="0.75"/><circle cx="106.23" cy="76.87" r="0.75"/><circle cx="108.32" cy="78.36" r="0.75"/><circle cx="110.40" cy="77.45" r="0.75"/><circle cx="112.48" cy="78.43" r="0.75"/><circle cx="114.56" cy="80.99" r="0.75"/><circle cx="116.65" cy="79.43" r="0.75"/><circle cx="118.73" cy="79.87" r="0.75"/><circle cx="120.81" cy="79.08" r="0.75"/><circle cx="122.90" cy="79.19" r="0.75"/><circle cx="124.98" cy="79.33" r="0.75"/><circle cx="127.06" cy="80.32" r="0.75"/><circle cx="129.14" cy="78.83" r="0.75"/><circle cx="131.23" cy="80.82" r="0.75"/><circle cx="133.31" cy="80.00" r="0.75"/><circle cx="135.39" cy="80.04" r="0.75"/><circle cx="137.48" cy="79.84" r="0.75"/><circle cx="139.56" cy="79.55" r="0.75"/><circle cx="141.64" cy="78.72" r="0.75"/></g>
<path d="M209.50 142.46V144.47M211.50 143.46V145.69M213.50 143.48V145.61M215.50 142.07V144.39M217.50 143.56V145.70M219.50 141.52V143.63M221.50 143.55V145.28M223.50 142.52V144.29M225.50 141.72V143.58M227.50 142.75V144.55M230.50 142.30V144.55M232.50 140.66V144.77M234.50 137.47V141.68M236.50 132.97V138.02M238.50 130.15V135.43M240.50 126.66V133.88M242.50 124.70V131.05M244.50 121.68V130.30M246.50 120.38V127.21M248.50 116.92V125.30M250.50 116.88V125.30M252.50 113.49V123.41M255.50 112.21V121.36M257.50 111.51V122.27M259.50 111.49V122.00M261.50 111.76V122.01M263.50 111.79V123.87M265.50 111.76V123.51M267.50 112.25V123.06M269.50 113.80V124.38M271.50 111.29V123.27M273.50 112.13V123.83M275.50 110.40V122.98M277.50 112.06V123.71M280.50 113.60V123.52M282.50 114.26V125.54M284.50 113.83V126.10M286.50 112.32V124.66M288.50 113.92V125.76M290.50 113.24V125.12M292.50 113.30V123.20M294.50 112.65V123.35M296.50 111.23V122.63M298.50 111.28V122.93M300.50 113.18V124.34M302.50 113.97V123.40M305.50 111.77V122.98M307.50 113.28V124.60" stroke="#e4615a" stroke-width="0.75" fill="none"/>
<path d="M208.30 142.46h1.8M208.30 144.47h1.8M210.38 143.46h1.8M210.38 145.69h1.8M212.47 143.48h1.8M212.47 145.61h1.8M214.55 142.07h1.8M214.55 144.39h1.8M216.63 143.56h1.8M216.63 145.70h1.8M218.71 141.52h1.8M218.71 143.63h1.8M220.80 143.55h1.8M220.80 145.28h1.8M222.88 142.52h1.8M222.88 144.29h1.8M224.96 141.72h1.8M224.96 143.58h1.8M227.05 142.75h1.8M227.05 144.55h1.8M229.13 142.30h1.8M229.13 144.55h1.8M231.21 140.66h1.8M231.21 144.77h1.8M233.29 137.47h1.8M233.29 141.68h1.8M235.38 132.97h1.8M235.38 138.02h1.8M237.46 130.15h1.8M237.46 135.43h1.8M239.54 126.66h1.8M239.54 133.88h1.8M241.62 124.70h1.8M241.62 131.05h1.8M243.71 121.68h1.8M243.71 130.30h1.8M245.79 120.38h1.8M245.79 127.21h1.8M247.87 116.92h1.8M247.87 125.30h1.8M249.96 116.88h1.8M249.96 125.30h1.8M252.04 113.49h1.8M252.04 123.41h1.8M254.12 112.21h1.8M254.12 121.36h1.8M256.20 111.51h1.8M256.20 122.27h1.8M258.29 111.49h1.8M258.29 122.00h1.8M260.37 111.76h1.8M260.37 122.01h1.8M262.45 111.79h1.8M262.45 123.87h1.8M264.54 111.76h1.8M264.54 123.51h1.8M266.62 112.25h1.8M266.62 123.06h1.8M268.70 113.80h1.8M268.70 124.38h1.8M270.78 111.29h1.8M270.78 123.27h1.8M272.87 112.13h1.8M272.87 123.83h1.8M274.95 110.40h1.8M274.95 122.98h1.8M277.03 112.06h1.8M277.03 123.71h1.8M279.11 113.60h1.8M279.11 123.52h1.8M281.20 114.26h1.8M281.20 125.54h1.8M283.28 113.83h1.8M283.28 126.10h1.8M285.36 112.32h1.8M285.36 124.66h1.8M287.45 113.92h1.8M287.45 125.76h1.8M289.53 113.24h1.8M289.53 125.12h1.8M291.61 113.30h1.8M291.61 123.20h1.8M293.69 112.65h1.8M293.69 123.35h1.8M295.78 111.23h1.8M295.78 122.63h1.8M297.86 111.28h1.8M297.86 122.93h1.8M299.94 113.18h1.8M299.94 124.34h1.8M302.03 113.97h1.8M302.03 123.40h1.8M304.11 111.77h1.8M304.11 122.98h1.8M306.19 113.28h1.8M306.19 124.60h1.8" stroke="#e0443a" stroke-opacity="0.75" stroke-width="0.9" fill="none"/>
<path d="M209.20 143.46 L211.28 144.57 L213.37 144.55 L215.45 143.23 L217.53 144.63 L219.61 142.57 L221.70 144.41 L223.78 143.41 L225.86 142.65 L227.95 143.65 L230.03 143.42 L232.11 142.72 L234.19 139.57 L236.28 135.49 L238.36 132.79 L240.44 130.27 L242.52 127.88 L244.61 125.99 L246.69 123.79 L248.77 121.11 L250.86 121.09 L252.94 118.45 L255.02 116.78 L257.10 116.89 L259.19 116.75 L261.27 116.88 L263.35 117.83 L265.44 117.63 L267.52 117.66 L269.60 119.09 L271.68 117.28 L273.77 117.98 L275.85 116.69 L277.93 117.89 L280.01 118.56 L282.10 119.90 L284.18 119.96 L286.26 118.49 L288.35 119.84 L290.43 119.18 L292.51 118.25 L294.59 118.00 L296.68 116.93 L298.76 117.10 L300.84 118.76 L302.93 118.68 L305.01 117.37 L307.09 118.94" stroke="#e0443a" stroke-width="1" fill="none" stroke-linejoin="round"/>
<g fill="#e0443a"><circle cx="209.20" cy="143.46" r="0.75"/><circle cx="211.28" cy="144.57" r="0.75"/><circle cx="213.37" cy="144.55" r="0.75"/><circle cx="215.45" cy="143.23" r="0.75"/><circle cx="217.53" cy="144.63" r="0.75"/><circle cx="219.61" cy="142.57" r="0.75"/><circle cx="221.70" cy="144.41" r="0.75"/><circle cx="223.78" cy="143.41" r="0.75"/><circle cx="225.86" cy="142.65" r="0.75"/><circle cx="227.95" cy="143.65" r="0.75"/><circle cx="230.03" cy="143.42" r="0.75"/><circle cx="232.11" cy="142.72" r="0.75"/><circle cx="234.19" cy="139.57" r="0.75"/><circle cx="236.28" cy="135.49" r="0.75"/><circle cx="238.36" cy="132.79" r="0.75"/><circle cx="240.44" cy="130.27" r="0.75"/><circle cx="242.52" cy="127.88" r="0.75"/><circle cx="244.61" cy="125.99" r="0.75"/><circle cx="246.69" cy="123.79" r="0.75"/><circle cx="248.77" cy="121.11" r="0.75"/><circle cx="250.86" cy="121.09" r="0.75"/><circle cx="252.94" cy="118.45" r="0.75"/><circle cx="255.02" cy="116.78" r="0.75"/><circle cx="257.10" cy="116.89" r="0.75"/><circle cx="259.19" cy="116.75" r="0.75"/><circle cx="261.27" cy="116.88" r="0.75"/><circle cx="263.35" cy="117.83" r="0.75"/><circle cx="265.44" cy="117.63" r="0.75"/><circle cx="267.52" cy="117.66" r="0.75"/><circle cx="269.60" cy="119.09" r="0.75"/><circle cx="271.68" cy="117.28" r="0.75"/><circle cx="273.77" cy="117.98" r="0.75"/><circle cx="275.85" cy="116.69" r="0.75"/><circle cx="277.93" cy="117.89" r="0.75"/><circle cx="280.01" cy="118.56" r="0.75"/><circle cx="282.10" cy="119.90" r="0.75"/><circle cx="284.18" cy="119.96" r="0.75"/><circle cx="286.26" cy="118.49" r="0.75"/><circle cx="288.35" cy="119.84" r="0.75"/><circle cx="290.43" cy="119.18" r="0.75"/><circle cx="292.51" cy="118.25" r="0.75"/><circle cx="294.59" cy="118.00" r="0.75"/><circle cx="296.68" cy="116.93" r="0.75"/><circle cx="298.76" cy="117.10" r="0.75"/><circle cx="300.84" cy="118.76" r="0.75"/><circle cx="302.93" cy="118.68" r="0.75"/><circle cx="305.01" cy="117.37" r="0.75"/><circle cx="307.09" cy="118.94" r="0.75"/></g>
<path d="M209.50 142.69V144.86M211.50 142.93V144.79M213.50 141.99V144.15M215.50 142.43V144.25M217.50 142.75V144.76M219.50 144.79V146.73M221.50 143.71V145.89M223.50 142.42V144.51M225.50 142.92V144.71M227.50 142.76V144.62M230.50 142.60V144.66M232.50 139.23V142.53M234.50 130.28V135.03M236.50 120.75V126.17M238.50 111.21V116.95M240.50 101.48V107.72M242.50 96.27V104.03M244.50 93.39V100.18M246.50 90.43V97.30M248.50 88.66V97.25M250.50 85.91V95.07M252.50 87.46V96.65M255.50 84.10V93.65M257.50 81.49V92.88M259.50 82.59V95.39M261.50 84.42V94.31M263.50 83.87V96.43M265.50 85.85V97.76M267.50 85.58V96.72M269.50 85.29V94.80M271.50 85.63V96.65M273.50 87.10V97.60M275.50 86.94V97.48M277.50 86.19V98.59M280.50 85.70V98.10M282.50 88.51V98.36M284.50 86.26V98.87M286.50 89.21V99.66M288.50 88.14V101.10M290.50 87.93V99.44M292.50 89.75V100.15M294.50 89.14V98.74M296.50 88.32V98.76M298.50 87.63V100.37M300.50 89.42V100.65M302.50 89.53V99.63M305.50 90.45V103.00M307.50 87.95V100.25" stroke="#55b862" stroke-width="0.75" fill="none"/>
<path d="M208.30 142.69h1.8M208.30 144.86h1.8M210.38 142.93h1.8M210.38 144.79h1.8M212.47 141.99h1.8M212.47 144.15h1.8M214.55 142.43h1.8M214.55 144.25h1.8M216.63 142.75h1.8M216.63 144.76h1.8M218.71 144.79h1.8M218.71 146.73h1.8M220.80 143.71h1.8M220.80 145.89h1.8M222.88 142.42h1.8M222.88 144.51h1.8M224.96 142.92h1.8M224.96 144.71h1.8M227.05 142.76h1.8M227.05 144.62h1.8M229.13 142.60h1.8M229.13 144.66h1.8M231.21 139.23h1.8M231.21 142.53h1.8M233.29 130.28h1.8M233.29 135.03h1.8M235.38 120.75h1.8M235.38 126.17h1.8M237.46 111.21h1.8M237.46 116.95h1.8M239.54 101.48h1.8M239.54 107.72h1.8M241.62 96.27h1.8M241.62 104.03h1.8M243.71 93.39h1.8M243.71 100.18h1.8M245.79 90.43h1.8M245.79 97.30h1.8M247.87 88.66h1.8M247.87 97.25h1.8M249.96 85.91h1.8M249.96 95.07h1.8M252.04 87.46h1.8M252.04 96.65h1.8M254.12 84.10h1.8M254.12 93.65h1.8M256.20 81.49h1.8M256.20 92.88h1.8M258.29 82.59h1.8M258.29 95.39h1.8M260.37 84.42h1.8M260.37 94.31h1.8M262.45 83.87h1.8M262.45 96.43h1.8M264.54 85.85h1.8M264.54 97.76h1.8M266.62 85.58h1.8M266.62 96.72h1.8M268.70 85.29h1.8M268.70 94.80h1.8M270.78 85.63h1.8M270.78 96.65h1.8M272.87 87.10h1.8M272.87 97.60h1.8M274.95 86.94h1.8M274.95 97.48h1.8M277.03 86.19h1.8M277.03 98.59h1.8M279.11 85.70h1.8M279.11 98.10h1.8M281.20 88.51h1.8M281.20 98.36h1.8M283.28 86.26h1.8M283.28 98.87h1.8M285.36 89.21h1.8M285.36 99.66h1.8M287.45 88.14h1.8M287.45 101.10h1.8M289.53 87.93h1.8M289.53 99.44h1.8M291.61 89.75h1.8M291.61 100.15h1.8M293.69 89.14h1.8M293.69 98.74h1.8M295.78 88.32h1.8M295.78 98.76h1.8M297.86 87.63h1.8M297.86 100.37h1.8M299.94 89.42h1.8M299.94 100.65h1.8M302.03 89.53h1.8M302.03 99.63h1.8M304.11 90.45h1.8M304.11 103.00h1.8M306.19 87.95h1.8M306.19 100.25h1.8" stroke="#35a844" stroke-opacity="0.75" stroke-width="0.9" fill="none"/>
<path d="M209.20 143.77 L211.28 143.86 L213.37 143.07 L215.45 143.34 L217.53 143.75 L219.61 145.76 L221.70 144.80 L223.78 143.46 L225.86 143.81 L227.95 143.69 L230.03 143.63 L232.11 140.88 L234.19 132.66 L236.28 123.46 L238.36 114.08 L240.44 104.60 L242.52 100.15 L244.61 96.78 L246.69 93.87 L248.77 92.96 L250.86 90.49 L252.94 92.06 L255.02 88.88 L257.10 87.18 L259.19 88.99 L261.27 89.37 L263.35 90.15 L265.44 91.81 L267.52 91.15 L269.60 90.04 L271.68 91.14 L273.77 92.35 L275.85 92.21 L277.93 92.39 L280.01 91.90 L282.10 93.44 L284.18 92.56 L286.26 94.44 L288.35 94.62 L290.43 93.69 L292.51 94.95 L294.59 93.94 L296.68 93.54 L298.76 94.00 L300.84 95.04 L302.93 94.58 L305.01 96.73 L307.09 94.10" stroke="#35a844" stroke-width="1" fill="none" stroke-linejoin="round"/>
<g fill="#35a844"><circle cx="209.20" cy="143.77" r="0.75"/><circle cx="211.28" cy="143.86" r="0.75"/><circle cx="213.37" cy="143.07" r="0.75"/><circle cx="215.45" cy="143.34" r="0.75"/><circle cx="217.53" cy="143.75" r="0.75"/><circle cx="219.61" cy="145.76" r="0.75"/><circle cx="221.70" cy="144.80" r="0.75"/><circle cx="223.78" cy="143.46" r="0.75"/><circle cx="225.86" cy="143.81" r="0.75"/><circle cx="227.95" cy="143.69" r="0.75"/><circle cx="230.03" cy="143.63" r="0.75"/><circle cx="232.11" cy="140.88" r="0.75"/><circle cx="234.19" cy="132.66" r="0.75"/><circle cx="236.28" cy="123.46" r="0.75"/><circle cx="238.36" cy="114.08" r="0.75"/><circle cx="240.44" cy="104.60" r="0.75"/><circle cx="242.52" cy="100.15" r="0.75"/><circle cx="244.61" cy="96.78" r="0.75"/><circle cx="246.69" cy="93.87" r="0.75"/><circle cx="248.77" cy="92.96" r="0.75"/><circle cx="250.86" cy="90.49" r="0.75"/><circle cx="252.94" cy="92.06" r="0.75"/><circle cx="255.02" cy="88.88" r="0.75"/><circle cx="257.10" cy="87.18" r="0.75"/><circle cx="259.19" cy="88.99" r="0.75"/><circle cx="261.27" cy="89.37" r="0.75"/><circle cx="263.35" cy="90.15" r="0.75"/><circle cx="265.44" cy="91.81" r="0.75"/><circle cx="267.52" cy="91.15" r="0.75"/><circle cx="269.60" cy="90.04" r="0.75"/><circle cx="271.68" cy="91.14" r="0.75"/><circle cx="273.77" cy="92.35" r="0.75"/><circle cx="275.85" cy="92.21" r="0.75"/><circle cx="277.93" cy="92.39" r="0.75"/><circle cx="280.01" cy="91.90" r="0.75"/><circle cx="282.10" cy="93.44" r="0.75"/><circle cx="284.18" cy="92.56" r="0.75"/><circle cx="286.26" cy="94.44" r="0.75"/><circle cx="288.35" cy="94.62" r="0.75"/><circle cx="290.43" cy="93.69" r="0.75"/><circle cx="292.51" cy="94.95" r="0.75"/><circle cx="294.59" cy="93.94" r="0.75"/><circle cx="296.68" cy="93.54" r="0.75"/><circle cx="298.76" cy="94.00" r="0.75"/><circle cx="300.84" cy="95.04" r="0.75"/><circle cx="302.93" cy="94.58" r="0.75"/><circle cx="305.01" cy="96.73" r="0.75"/><circle cx="307.09" cy="94.10" r="0.75"/></g>
<path d="M209.50 143.08V146.52M211.50 143.36V146.43M213.50 142.04V145.29M215.50 142.38V145.35M217.50 142.19V145.01M219.50 143.45V146.04M221.50 141.75V144.75M223.50 142.36V145.24M225.50 142.26V145.74M227.50 141.85V144.65M230.50 142.19V145.27M232.50 138.06V143.72M234.50 129.81V135.94M236.50 119.14V127.79M238.50 109.09V118.74M240.50 97.98V108.92M242.50 93.38V102.73M244.50 88.68V98.49M246.50 84.77V95.93M248.50 81.54V93.60M250.50 79.90V94.96M252.50 77.71V92.17M255.50 76.27V91.42M257.50 74.14V89.95M259.50 72.32V91.59M261.50 74.91V89.72M263.50 74.39V93.11M265.50 75.18V90.46M267.50 74.95V91.21M269.50 74.40V90.91M271.50 72.66V91.43M273.50 77.10V91.36M275.50 73.42V92.31M277.50 75.78V92.43M280.50 76.51V92.73M282.50 75.31V94.36M284.50 74.65V93.95M286.50 78.82V94.28M288.50 76.53V93.44M290.50 76.33V94.09M292.50 75.69V93.26M294.50 77.15V95.35M296.50 79.73V94.08M298.50 76.68V94.97M300.50 77.26V94.82M302.50 76.75V92.50M305.50 77.36V94.87M307.50 77.31V95.15" stroke="#5d72c4" stroke-width="0.75" fill="none"/>
<path d="M208.30 143.08h1.8M208.30 146.52h1.8M210.38 143.36h1.8M210.38 146.43h1.8M212.47 142.04h1.8M212.47 145.29h1.8M214.55 142.38h1.8M214.55 145.35h1.8M216.63 142.19h1.8M216.63 145.01h1.8M218.71 143.45h1.8M218.71 146.04h1.8M220.80 141.75h1.8M220.80 144.75h1.8M222.88 142.36h1.8M222.88 145.24h1.8M224.96 142.26h1.8M224.96 145.74h1.8M227.05 141.85h1.8M227.05 144.65h1.8M229.13 142.19h1.8M229.13 145.27h1.8M231.21 138.06h1.8M231.21 143.72h1.8M233.29 129.81h1.8M233.29 135.94h1.8M235.38 119.14h1.8M235.38 127.79h1.8M237.46 109.09h1.8M237.46 118.74h1.8M239.54 97.98h1.8M239.54 108.92h1.8M241.62 93.38h1.8M241.62 102.73h1.8M243.71 88.68h1.8M243.71 98.49h1.8M245.79 84.77h1.8M245.79 95.93h1.8M247.87 81.54h1.8M247.87 93.60h1.8M249.96 79.90h1.8M249.96 94.96h1.8M252.04 77.71h1.8M252.04 92.17h1.8M254.12 76.27h1.8M254.12 91.42h1.8M256.20 74.14h1.8M256.20 89.95h1.8M258.29 72.32h1.8M258.29 91.59h1.8M260.37 74.91h1.8M260.37 89.72h1.8M262.45 74.39h1.8M262.45 93.11h1.8M264.54 75.18h1.8M264.54 90.46h1.8M266.62 74.95h1.8M266.62 91.21h1.8M268.70 74.40h1.8M268.70 90.91h1.8M270.78 72.66h1.8M270.78 91.43h1.8M272.87 77.10h1.8M272.87 91.36h1.8M274.95 73.42h1.8M274.95 92.31h1.8M277.03 75.78h1.8M277.03 92.43h1.8M279.11 76.51h1.8M279.11 92.73h1.8M281.20 75.31h1.8M281.20 94.36h1.8M283.28 74.65h1.8M283.28 93.95h1.8M285.36 78.82h1.8M285.36 94.28h1.8M287.45 76.53h1.8M287.45 93.44h1.8M289.53 76.33h1.8M289.53 94.09h1.8M291.61 75.69h1.8M291.61 93.26h1.8M293.69 77.15h1.8M293.69 95.35h1.8M295.78 79.73h1.8M295.78 94.08h1.8M297.86 76.68h1.8M297.86 94.97h1.8M299.94 77.26h1.8M299.94 94.82h1.8M302.03 76.75h1.8M302.03 92.50h1.8M304.11 77.36h1.8M304.11 94.87h1.8M306.19 77.31h1.8M306.19 95.15h1.8" stroke="#3550a8" stroke-opacity="0.75" stroke-width="0.9" fill="none"/>
<path d="M209.20 144.80 L211.28 144.89 L213.37 143.67 L215.45 143.86 L217.53 143.60 L219.61 144.75 L221.70 143.25 L223.78 143.80 L225.86 144.00 L227.95 143.25 L230.03 143.73 L232.11 140.89 L234.19 132.87 L236.28 123.47 L238.36 113.92 L240.44 103.45 L242.52 98.05 L244.61 93.58 L246.69 90.35 L248.77 87.57 L250.86 87.43 L252.94 84.94 L255.02 83.84 L257.10 82.04 L259.19 81.95 L261.27 82.31 L263.35 83.75 L265.44 82.82 L267.52 83.08 L269.60 82.65 L271.68 82.05 L273.77 84.23 L275.85 82.87 L277.93 84.11 L280.01 84.62 L282.10 84.83 L284.18 84.30 L286.26 86.55 L288.35 84.99 L290.43 85.21 L292.51 84.47 L294.59 86.25 L296.68 86.90 L298.76 85.82 L300.84 86.04 L302.93 84.62 L305.01 86.11 L307.09 86.23" stroke="#3550a8" stroke-width="1" fill="none" stroke-linejoin="round"/>
<g fill="#3550a8"><circle cx="209.20" cy="144.80" r="0.75"/><circle cx="211.28" cy="144.89" r="0.75"/><circle cx="213.37" cy="143.67" r="0.75"/><circle cx="215.45" cy="143.86" r="0.75"/><circle cx="217.53" cy="143.60" r="0.75"/><circle cx="219.61" cy="144.75" r="0.75"/><circle cx="221.70" cy="143.25" r="0.75"/><circle cx="223.78" cy="143.80" r="0.75"/><circle cx="225.86" cy="144.00" r="0.75"/><circle cx="227.95" cy="143.25" r="0.75"/><circle cx="230.03" cy="143.73" r="0.75"/><circle cx="232.11" cy="140.89" r="0.75"/><circle cx="234.19" cy="132.87" r="0.75"/><circle cx="236.28" cy="123.47" r="0.75"/><circle cx="238.36" cy="113.92" r="0.75"/><circle cx="240.44" cy="103.45" r="0.75"/><circle cx="242.52" cy="98.05" r="0.75"/><circle cx="244.61" cy="93.58" r="0.75"/><circle cx="246.69" cy="90.35" r="0.75"/><circle cx="248.77" cy="87.57" r="0.75"/><circle cx="250.86" cy="87.43" r="0.75"/><circle cx="252.94" cy="84.94" r="0.75"/><circle cx="255.02" cy="83.84" r="0.75"/><circle cx="257.10" cy="82.04" r="0.75"/><circle cx="259.19" cy="81.95" r="0.75"/><circle cx="261.27" cy="82.31" r="0.75"/><circle cx="263.35" cy="83.75" r="0.75"/><circle cx="265.44" cy="82.82" r="0.75"/><circle cx="267.52" cy="83.08" r="0.75"/><circle cx="269.60" cy="82.65" r="0.75"/><circle cx="271.68" cy="82.05" r="0.75"/><circle cx="273.77" cy="84.23" r="0.75"/><circle cx="275.85" cy="82.87" r="0.75"/><circle cx="277.93" cy="84.11" r="0.75"/><circle cx="280.01" cy="84.62" r="0.75"/><circle cx="282.10" cy="84.83" r="0.75"/><circle cx="284.18" cy="84.30" r="0.75"/><circle cx="286.26" cy="86.55" r="0.75"/><circle cx="288.35" cy="84.99" r="0.75"/><circle cx="290.43" cy="85.21" r="0.75"/><circle cx="292.51" cy="84.47" r="0.75"/><circle cx="294.59" cy="86.25" r="0.75"/><circle cx="296.68" cy="86.90" r="0.75"/><circle cx="298.76" cy="85.82" r="0.75"/><circle cx="300.84" cy="86.04" r="0.75"/><circle cx="302.93" cy="84.62" r="0.75"/><circle cx="305.01" cy="86.11" r="0.75"/><circle cx="307.09" cy="86.23" r="0.75"/></g>
<path d="M209.50 141.70V145.08M211.50 141.70V145.15M213.50 142.31V145.78M215.50 141.84V144.68M217.50 141.97V145.82M219.50 141.03V144.55M221.50 141.41V144.49M223.50 142.67V145.76M225.50 140.85V144.01M227.50 142.28V145.13M230.50 142.33V145.61M232.50 137.70V143.71M234.50 129.58V136.44M236.50 119.69V126.95M238.50 106.95V117.01M240.50 94.21V103.72M242.50 84.60V96.13M244.50 78.95V90.29M246.50 71.76V86.64M248.50 69.58V82.85M250.50 66.78V81.29M252.50 62.10V80.97M255.50 64.32V80.30M257.50 62.13V80.16M259.50 63.47V80.05M261.50 63.42V81.45M263.50 62.15V78.69M265.50 61.06V77.08M267.50 60.20V81.21M269.50 61.04V81.96M271.50 61.88V83.09M273.50 66.49V84.14M275.50 62.26V82.37M277.50 63.81V79.71M280.50 65.28V83.19M282.50 66.00V83.67M284.50 65.76V83.12M286.50 65.80V83.58M288.50 63.92V85.32M290.50 66.91V83.85M292.50 66.15V86.70M294.50 65.50V83.76M296.50 66.22V84.13M298.50 65.43V86.56M300.50 65.75V86.75M302.50 68.12V84.01M305.50 68.11V88.34M307.50 68.50V84.45" stroke="#555555" stroke-width="0.75" fill="none"/>
<path d="M208.30 141.70h1.8M208.30 145.08h1.8M210.38 141.70h1.8M210.38 145.15h1.8M212.47 142.31h1.8M212.47 145.78h1.8M214.55 141.84h1.8M214.55 144.68h1.8M216.63 141.97h1.8M216.63 145.82h1.8M218.71 141.03h1.8M218.71 144.55h1.8M220.80 141.41h1.8M220.80 144.49h1.8M222.88 142.67h1.8M222.88 145.76h1.8M224.96 140.85h1.8M224.96 144.01h1.8M227.05 142.28h1.8M227.05 145.13h1.8M229.13 142.33h1.8M229.13 145.61h1.8M231.21 137.70h1.8M231.21 143.71h1.8M233.29 129.58h1.8M233.29 136.44h1.8M235.38 119.69h1.8M235.38 126.95h1.8M237.46 106.95h1.8M237.46 117.01h1.8M239.54 94.21h1.8M239.54 103.72h1.8M241.62 84.60h1.8M241.62 96.13h1.8M243.71 78.95h1.8M243.71 90.29h1.8M245.79 71.76h1.8M245.79 86.64h1.8M247.87 69.58h1.8M247.87 82.85h1.8M249.96 66.78h1.8M249.96 81.29h1.8M252.04 62.10h1.8M252.04 80.97h1.8M254.12 64.32h1.8M254.12 80.30h1.8M256.20 62.13h1.8M256.20 80.16h1.8M258.29 63.47h1.8M258.29 80.05h1.8M260.37 63.42h1.8M260.37 81.45h1.8M262.45 62.15h1.8M262.45 78.69h1.8M264.54 61.06h1.8M264.54 77.08h1.8M266.62 60.20h1.8M266.62 81.21h1.8M268.70 61.04h1.8M268.70 81.96h1.8M270.78 61.88h1.8M270.78 83.09h1.8M272.87 66.49h1.8M272.87 84.14h1.8M274.95 62.26h1.8M274.95 82.37h1.8M277.03 63.81h1.8M277.03 79.71h1.8M279.11 65.28h1.8M279.11 83.19h1.8M281.20 66.00h1.8M281.20 83.67h1.8M283.28 65.76h1.8M283.28 83.12h1.8M285.36 65.80h1.8M285.36 83.58h1.8M287.45 63.92h1.8M287.45 85.32h1.8M289.53 66.91h1.8M289.53 83.85h1.8M291.61 66.15h1.8M291.61 86.70h1.8M293.69 65.50h1.8M293.69 83.76h1.8M295.78 66.22h1.8M295.78 84.13h1.8M297.86 65.43h1.8M297.86 86.56h1.8M299.94 65.75h1.8M299.94 86.75h1.8M302.03 68.12h1.8M302.03 84.01h1.8M304.11 68.11h1.8M304.11 88.34h1.8M306.19 68.50h1.8M306.19 84.45h1.8" stroke="#151515" stroke-opacity="0.75" stroke-width="0.9" fill="none"/>
<path d="M209.20 143.39 L211.28 143.42 L213.37 144.04 L215.45 143.26 L217.53 143.90 L219.61 142.79 L221.70 142.95 L223.78 144.21 L225.86 142.43 L227.95 143.71 L230.03 143.97 L232.11 140.71 L234.19 133.01 L236.28 123.32 L238.36 111.98 L240.44 98.97 L242.52 90.37 L244.61 84.62 L246.69 79.20 L248.77 76.21 L250.86 74.03 L252.94 71.54 L255.02 72.31 L257.10 71.14 L259.19 71.76 L261.27 72.43 L263.35 70.42 L265.44 69.07 L267.52 70.70 L269.60 71.50 L271.68 72.49 L273.77 75.32 L275.85 72.31 L277.93 71.76 L280.01 74.23 L282.10 74.84 L284.18 74.44 L286.26 74.69 L288.35 74.62 L290.43 75.38 L292.51 76.43 L294.59 74.63 L296.68 75.17 L298.76 76.00 L300.84 76.25 L302.93 76.06 L305.01 78.23 L307.09 76.47" stroke="#151515" stroke-width="1" fill="none" stroke-linejoin="round"/>
<g fill="#151515"><circle cx="209.20" cy="143.39" r="0.75"/><circle cx="211.28" cy="143.42" r="0.75"/><circle cx="213.37" cy="144.04" r="0.75"/><circle cx="215.45" cy="143.26" r="0.75"/><circle cx="217.53" cy="143.90" r="0.75"/><circle cx="219.61" cy="142.79" r="0.75"/><circle cx="221.70" cy="142.95" r="0.75"/><circle cx="223.78" cy="144.21" r="0.75"/><circle cx="225.86" cy="142.43" r="0.75"/><circle cx="227.95" cy="143.71" r="0.75"/><circle cx="230.03" cy="143.97" r="0.75"/><circle cx="232.11" cy="140.71" r="0.75"/><circle cx="234.19" cy="133.01" r="0.75"/><circle cx="236.28" cy="123.32" r="0.75"/><circle cx="238.36" cy="111.98" r="0.75"/><circle cx="240.44" cy="98.97" r="0.75"/><circle cx="242.52" cy="90.37" r="0.75"/><circle cx="244.61" cy="84.62" r="0.75"/><circle cx="246.69" cy="79.20" r="0.75"/><circle cx="248.77" cy="76.21" r="0.75"/><circle cx="250.86" cy="74.03" r="0.75"/><circle cx="252.94" cy="71.54" r="0.75"/><circle cx="255.02" cy="72.31" r="0.75"/><circle cx="257.10" cy="71.14" r="0.75"/><circle cx="259.19" cy="71.76" r="0.75"/><circle cx="261.27" cy="72.43" r="0.75"/><circle cx="263.35" cy="70.42" r="0.75"/><circle cx="265.44" cy="69.07" r="0.75"/><circle cx="267.52" cy="70.70" r="0.75"/><circle cx="269.60" cy="71.50" r="0.75"/><circle cx="271.68" cy="72.49" r="0.75"/><circle cx="273.77" cy="75.32" r="0.75"/><circle cx="275.85" cy="72.31" r="0.75"/><circle cx="277.93" cy="71.76" r="0.75"/><circle cx="280.01" cy="74.23" r="0.75"/><circle cx="282.10" cy="74.84" r="0.75"/><circle cx="284.18" cy="74.44" r="0.75"/><circle cx="286.26" cy="74.69" r="0.75"/><circle cx="288.35" cy="74.62" r="0.75"/><circle cx="290.43" cy="75.38" r="0.75"/><circle cx="292.51" cy="76.43" r="0.75"/><circle cx="294.59" cy="74.63" r="0.75"/><circle cx="296.68" cy="75.17" r="0.75"/><circle cx="298.76" cy="76.00" r="0.75"/><circle cx="300.84" cy="76.25" r="0.75"/><circle cx="302.93" cy="76.06" r="0.75"/><circle cx="305.01" cy="78.23" r="0.75"/><circle cx="307.09" cy="76.47" r="0.75"/></g>
<path d="M374.50 141.16V142.38M376.50 141.49V142.48M378.50 141.57V142.59M381.50 143.23V144.23M383.50 140.50V141.49M385.50 141.76V142.91M387.50 141.85V142.76M389.50 140.89V142.05M391.50 140.47V141.70M393.50 141.76V142.67M395.50 141.40V142.63M397.50 140.53V142.92M399.50 134.07V136.42M401.50 124.01V126.72M403.50 115.42V118.75M406.50 112.08V115.70M408.50 109.37V113.18M410.50 108.05V111.84M412.50 105.41V110.12M414.50 103.01V107.04M416.50 101.14V105.70M418.50 98.69V103.25M420.50 97.27V102.56M422.50 96.11V102.93M424.50 94.54V100.07M426.50 98.36V103.54M428.50 96.35V102.72M431.50 97.80V103.67M433.50 98.60V104.79M435.50 97.75V104.05M437.50 98.36V104.65M439.50 100.10V105.35M441.50 97.54V103.64M443.50 98.49V104.23M445.50 98.17V103.67M447.50 98.95V104.44M449.50 97.62V103.74M451.50 97.95V103.60M453.50 101.57V107.56M456.50 98.84V104.30M458.50 99.65V106.55M460.50 102.44V107.66M462.50 102.62V109.23M464.50 101.42V108.17M466.50 102.34V107.59M468.50 103.38V108.77M470.50 102.58V109.36M472.50 104.99V110.72" stroke="#e4615a" stroke-width="0.75" fill="none"/>
<path d="M373.90 141.16h1.8M373.90 142.38h1.8M375.98 141.49h1.8M375.98 142.48h1.8M378.07 141.57h1.8M378.07 142.59h1.8M380.15 143.23h1.8M380.15 144.23h1.8M382.23 140.50h1.8M382.23 141.49h1.8M384.31 141.76h1.8M384.31 142.91h1.8M386.40 141.85h1.8M386.40 142.76h1.8M388.48 140.89h1.8M388.48 142.05h1.8M390.56 140.47h1.8M390.56 141.70h1.8M392.65 141.76h1.8M392.65 142.67h1.8M394.73 141.40h1.8M394.73 142.63h1.8M396.81 140.53h1.8M396.81 142.92h1.8M398.89 134.07h1.8M398.89 136.42h1.8M400.98 124.01h1.8M400.98 126.72h1.8M403.06 115.42h1.8M403.06 118.75h1.8M405.14 112.08h1.8M405.14 115.70h1.8M407.22 109.37h1.8M407.22 113.18h1.8M409.31 108.05h1.8M409.31 111.84h1.8M411.39 105.41h1.8M411.39 110.12h1.8M413.47 103.01h1.8M413.47 107.04h1.8M415.56 101.14h1.8M415.56 105.70h1.8M417.64 98.69h1.8M417.64 103.25h1.8M419.72 97.27h1.8M419.72 102.56h1.8M421.80 96.11h1.8M421.80 102.93h1.8M423.89 94.54h1.8M423.89 100.07h1.8M425.97 98.36h1.8M425.97 103.54h1.8M428.05 96.35h1.8M428.05 102.72h1.8M430.14 97.80h1.8M430.14 103.67h1.8M432.22 98.60h1.8M432.22 104.79h1.8M434.30 97.75h1.8M434.30 104.05h1.8M436.38 98.36h1.8M436.38 104.65h1.8M438.47 100.10h1.8M438.47 105.35h1.8M440.55 97.54h1.8M440.55 103.64h1.8M442.63 98.49h1.8M442.63 104.23h1.8M444.71 98.17h1.8M444.71 103.67h1.8M446.80 98.95h1.8M446.80 104.44h1.8M448.88 97.62h1.8M448.88 103.74h1.8M450.96 97.95h1.8M450.96 103.60h1.8M453.05 101.57h1.8M453.05 107.56h1.8M455.13 98.84h1.8M455.13 104.30h1.8M457.21 99.65h1.8M457.21 106.55h1.8M459.29 102.44h1.8M459.29 107.66h1.8M461.38 102.62h1.8M461.38 109.23h1.8M463.46 101.42h1.8M463.46 108.17h1.8M465.54 102.34h1.8M465.54 107.59h1.8M467.63 103.38h1.8M467.63 108.77h1.8M469.71 102.58h1.8M469.71 109.36h1.8M471.79 104.99h1.8M471.79 110.72h1.8" stroke="#e0443a" stroke-opacity="0.75" stroke-width="0.9" fill="none"/>
<path d="M374.80 141.77 L376.88 141.99 L378.97 142.08 L381.05 143.73 L383.13 141.00 L385.21 142.33 L387.30 142.30 L389.38 141.47 L391.46 141.08 L393.55 142.21 L395.63 142.02 L397.71 141.72 L399.79 135.24 L401.88 125.37 L403.96 117.08 L406.04 113.89 L408.12 111.28 L410.21 109.95 L412.29 107.77 L414.37 105.02 L416.46 103.42 L418.54 100.97 L420.62 99.91 L422.70 99.52 L424.79 97.31 L426.87 100.95 L428.95 99.54 L431.04 100.73 L433.12 101.70 L435.20 100.90 L437.28 101.50 L439.37 102.72 L441.45 100.59 L443.53 101.36 L445.61 100.92 L447.70 101.69 L449.78 100.68 L451.86 100.78 L453.95 104.57 L456.03 101.57 L458.11 103.10 L460.19 105.05 L462.28 105.92 L464.36 104.79 L466.44 104.97 L468.53 106.07 L470.61 105.97 L472.69 107.85" stroke="#e0443a" stroke-width="1" fill="none" stroke-linejoin="round"/>
<g fill="#e0443a"><circle cx="374.80" cy="141.77" r="0.75"/><circle cx="376.88" cy="141.99" r="0.75"/><circle cx="378.97" cy="142.08" r="0.75"/><circle cx="381.05" cy="143.73" r="0.75"/><circle cx="383.13" cy="141.00" r="0.75"/><circle cx="385.21" cy="142.33" r="0.75"/><circle cx="387.30" cy="142.30" r="0.75"/><circle cx="389.38" cy="141.47" r="0.75"/><circle cx="391.46" cy="141.08" r="0.75"/><circle cx="393.55" cy="142.21" r="0.75"/><circle cx="395.63" cy="142.02" r="0.75"/><circle cx="397.71" cy="141.72" r="0.75"/><circle cx="399.79" cy="135.24" r="0.75"/><circle cx="401.88" cy="125.37" r="0.75"/><circle cx="403.96" cy="117.08" r="0.75"/><circle cx="406.04" cy="113.89" r="0.75"/><circle cx="408.12" cy="111.28" r="0.75"/><circle cx="410.21" cy="109.95" r="0.75"/><circle cx="412.29" cy="107.77" r="0.75"/><circle cx="414.37" cy="105.02" r="0.75"/><circle cx="416.46" cy="103.42" r="0.75"/><circle cx="418.54" cy="100.97" r="0.75"/><circle cx="420.62" cy="99.91" r="0.75"/><circle cx="422.70" cy="99.52" r="0.75"/><circle cx="424.79" cy="97.31" r="0.75"/><circle cx="426.87" cy="100.95" r="0.75"/><circle cx="428.95" cy="99.54" r="0.75"/><circle cx="431.04" cy="100.73" r="0.75"/><circle cx="433.12" cy="101.70" r="0.75"/><circle cx="435.20" cy="100.90" r="0.75"/><circle cx="437.28" cy="101.50" r="0.75"/><circle cx="439.37" cy="102.72" r="0.75"/><circle cx="441.45" cy="100.59" r="0.75"/><circle cx="443.53" cy="101.36" r="0.75"/><circle cx="445.61" cy="100.92" r="0.75"/><circle cx="447.70" cy="101.69" r="0.75"/><circle cx="449.78" cy="100.68" r="0.75"/><circle cx="451.86" cy="100.78" r="0.75"/><circle cx="453.95" cy="104.57" r="0.75"/><circle cx="456.03" cy="101.57" r="0.75"/><circle cx="458.11" cy="103.10" r="0.75"/><circle cx="460.19" cy="105.05" r="0.75"/><circle cx="462.28" cy="105.92" r="0.75"/><circle cx="464.36" cy="104.79" r="0.75"/><circle cx="466.44" cy="104.97" r="0.75"/><circle cx="468.53" cy="106.07" r="0.75"/><circle cx="470.61" cy="105.97" r="0.75"/><circle cx="472.69" cy="107.85" r="0.75"/></g>
<path d="M374.50 140.79V142.16M376.50 141.88V143.49M378.50 140.94V142.46M381.50 141.40V142.94M383.50 141.24V142.55M385.50 140.64V141.98M387.50 141.31V142.85M389.50 140.31V141.65M391.50 140.57V142.13M393.50 141.37V142.70M395.50 141.30V142.92M397.50 139.69V142.60M399.50 130.74V133.94M401.50 120.60V124.40M403.50 113.84V117.58M406.50 107.64V112.55M408.50 103.31V108.07M410.50 98.55V104.85M412.50 96.48V102.16M414.50 93.22V99.43M416.50 90.65V97.18M418.50 93.08V99.65M420.50 90.22V96.73M422.50 88.55V97.73M424.50 89.19V97.16M426.50 85.96V95.16M428.50 87.68V94.64M431.50 86.06V94.41M433.50 87.72V94.86M435.50 87.27V95.79M437.50 87.19V94.48M439.50 85.70V93.35M441.50 88.37V95.57M443.50 86.34V94.53M445.50 85.88V93.31M447.50 88.94V96.18M449.50 85.05V93.21M451.50 88.92V95.97M453.50 86.89V96.14M456.50 88.71V97.23M458.50 88.33V97.28M460.50 90.07V97.56M462.50 90.51V99.57M464.50 89.61V97.00M466.50 90.26V98.51M468.50 90.19V98.10M470.50 90.48V99.27M472.50 90.47V99.71" stroke="#55b862" stroke-width="0.75" fill="none"/>
<path d="M373.90 140.79h1.8M373.90 142.16h1.8M375.98 141.88h1.8M375.98 143.49h1.8M378.07 140.94h1.8M378.07 142.46h1.8M380.15 141.40h1.8M380.15 142.94h1.8M382.23 141.24h1.8M382.23 142.55h1.8M384.31 140.64h1.8M384.31 141.98h1.8M386.40 141.31h1.8M386.40 142.85h1.8M388.48 140.31h1.8M388.48 141.65h1.8M390.56 140.57h1.8M390.56 142.13h1.8M392.65 141.37h1.8M392.65 142.70h1.8M394.73 141.30h1.8M394.73 142.92h1.8M396.81 139.69h1.8M396.81 142.60h1.8M398.89 130.74h1.8M398.89 133.94h1.8M400.98 120.60h1.8M400.98 124.40h1.8M403.06 113.84h1.8M403.06 117.58h1.8M405.14 107.64h1.8M405.14 112.55h1.8M407.22 103.31h1.8M407.22 108.07h1.8M409.31 98.55h1.8M409.31 104.85h1.8M411.39 96.48h1.8M411.39 102.16h1.8M413.47 93.22h1.8M413.47 99.43h1.8M415.56 90.65h1.8M415.56 97.18h1.8M417.64 93.08h1.8M417.64 99.65h1.8M419.72 90.22h1.8M419.72 96.73h1.8M421.80 88.55h1.8M421.80 97.73h1.8M423.89 89.19h1.8M423.89 97.16h1.8M425.97 85.96h1.8M425.97 95.16h1.8M428.05 87.68h1.8M428.05 94.64h1.8M430.14 86.06h1.8M430.14 94.41h1.8M432.22 87.72h1.8M432.22 94.86h1.8M434.30 87.27h1.8M434.30 95.79h1.8M436.38 87.19h1.8M436.38 94.48h1.8M438.47 85.70h1.8M438.47 93.35h1.8M440.55 88.37h1.8M440.55 95.57h1.8M442.63 86.34h1.8M442.63 94.53h1.8M444.71 85.88h1.8M444.71 93.31h1.8M446.80 88.94h1.8M446.80 96.18h1.8M448.88 85.05h1.8M448.88 93.21h1.8M450.96 88.92h1.8M450.96 95.97h1.8M453.05 86.89h1.8M453.05 96.14h1.8M455.13 88.71h1.8M455.13 97.23h1.8M457.21 88.33h1.8M457.21 97.28h1.8M459.29 90.07h1.8M459.29 97.56h1.8M461.38 90.51h1.8M461.38 99.57h1.8M463.46 89.61h1.8M463.46 97.00h1.8M465.54 90.26h1.8M465.54 98.51h1.8M467.63 90.19h1.8M467.63 98.10h1.8M469.71 90.48h1.8M469.71 99.27h1.8M471.79 90.47h1.8M471.79 99.71h1.8" stroke="#35a844" stroke-opacity="0.75" stroke-width="0.9" fill="none"/>
<path d="M374.80 141.47 L376.88 142.69 L378.97 141.70 L381.05 142.17 L383.13 141.89 L385.21 141.31 L387.30 142.08 L389.38 140.98 L391.46 141.35 L393.55 142.03 L395.63 142.11 L397.71 141.15 L399.79 132.34 L401.88 122.50 L403.96 115.71 L406.04 110.09 L408.12 105.69 L410.21 101.70 L412.29 99.32 L414.37 96.33 L416.46 93.91 L418.54 96.37 L420.62 93.47 L422.70 93.14 L424.79 93.17 L426.87 90.56 L428.95 91.16 L431.04 90.24 L433.12 91.29 L435.20 91.53 L437.28 90.84 L439.37 89.52 L441.45 91.97 L443.53 90.43 L445.61 89.60 L447.70 92.56 L449.78 89.13 L451.86 92.45 L453.95 91.52 L456.03 92.97 L458.11 92.81 L460.19 93.82 L462.28 95.04 L464.36 93.31 L466.44 94.38 L468.53 94.14 L470.61 94.88 L472.69 95.09" stroke="#35a844" stroke-width="1" fill="none" stroke-linejoin="round"/>
<g fill="#35a844"><circle cx="374.80" cy="141.47" r="0.75"/><circle cx="376.88" cy="142.69" r="0.75"/><circle cx="378.97" cy="141.70" r="0.75"/><circle cx="381.05" cy="142.17" r="0.75"/><circle cx="383.13" cy="141.89" r="0.75"/><circle cx="385.21" cy="141.31" r="0.75"/><circle cx="387.30" cy="142.08" r="0.75"/><circle cx="389.38" cy="140.98" r="0.75"/><circle cx="391.46" cy="141.35" r="0.75"/><circle cx="393.55" cy="142.03" r="0.75"/><circle cx="395.63" cy="142.11" r="0.75"/><circle cx="397.71" cy="141.15" r="0.75"/><circle cx="399.79" cy="132.34" r="0.75"/><circle cx="401.88" cy="122.50" r="0.75"/><circle cx="403.96" cy="115.71" r="0.75"/><circle cx="406.04" cy="110.09" r="0.75"/><circle cx="408.12" cy="105.69" r="0.75"/><circle cx="410.21" cy="101.70" r="0.75"/><circle cx="412.29" cy="99.32" r="0.75"/><circle cx="414.37" cy="96.33" r="0.75"/><circle cx="416.46" cy="93.91" r="0.75"/><circle cx="418.54" cy="96.37" r="0.75"/><circle cx="420.62" cy="93.47" r="0.75"/><circle cx="422.70" cy="93.14" r="0.75"/><circle cx="424.79" cy="93.17" r="0.75"/><circle cx="426.87" cy="90.56" r="0.75"/><circle cx="428.95" cy="91.16" r="0.75"/><circle cx="431.04" cy="90.24" r="0.75"/><circle cx="433.12" cy="91.29" r="0.75"/><circle cx="435.20" cy="91.53" r="0.75"/><circle cx="437.28" cy="90.84" r="0.75"/><circle cx="439.37" cy="89.52" r="0.75"/><circle cx="441.45" cy="91.97" r="0.75"/><circle cx="443.53" cy="90.43" r="0.75"/><circle cx="445.61" cy="89.60" r="0.75"/><circle cx="447.70" cy="92.56" r="0.75"/><circle cx="449.78" cy="89.13" r="0.75"/><circle cx="451.86" cy="92.45" r="0.75"/><circle cx="453.95" cy="91.52" r="0.75"/><circle cx="456.03" cy="92.97" r="0.75"/><circle cx="458.11" cy="92.81" r="0.75"/><circle cx="460.19" cy="93.82" r="0.75"/><circle cx="462.28" cy="95.04" r="0.75"/><circle cx="464.36" cy="93.31" r="0.75"/><circle cx="466.44" cy="94.38" r="0.75"/><circle cx="468.53" cy="94.14" r="0.75"/><circle cx="470.61" cy="94.88" r="0.75"/><circle cx="472.69" cy="95.09" r="0.75"/></g>
<path d="M374.50 139.85V141.81M376.50 140.95V142.50M378.50 140.85V142.72M381.50 141.54V143.39M383.50 141.75V143.52M385.50 141.72V143.58M387.50 142.44V144.22M389.50 140.51V142.29M391.50 139.79V141.60M393.50 141.16V142.82M395.50 141.11V142.90M397.50 139.95V143.11M399.50 129.77V133.35M401.50 116.09V120.58M403.50 104.76V109.91M406.50 96.52V101.37M408.50 89.41V96.09M410.50 83.90V91.25M412.50 80.65V87.95M414.50 78.16V85.70M416.50 74.86V84.18M418.50 73.65V83.97M420.50 73.79V82.33M422.50 73.49V85.01M424.50 73.88V85.28M426.50 72.22V81.23M428.50 71.75V80.44M431.50 73.91V83.51M433.50 70.76V82.10M435.50 72.39V81.75M437.50 71.37V81.45M439.50 71.64V83.05M441.50 71.89V81.98M443.50 71.98V81.48M445.50 72.75V81.74M447.50 72.38V83.84M449.50 75.05V84.07M451.50 75.47V86.46M453.50 73.31V83.82M456.50 74.23V83.86M458.50 74.20V84.53M460.50 75.91V87.20M462.50 73.41V83.90M464.50 74.80V84.54M466.50 75.97V87.61M468.50 78.05V88.37M470.50 79.05V88.94M472.50 77.51V86.56" stroke="#5d72c4" stroke-width="0.75" fill="none"/>
<path d="M373.90 139.85h1.8M373.90 141.81h1.8M375.98 140.95h1.8M375.98 142.50h1.8M378.07 140.85h1.8M378.07 142.72h1.8M380.15 141.54h1.8M380.15 143.39h1.8M382.23 141.75h1.8M382.23 143.52h1.8M384.31 141.72h1.8M384.31 143.58h1.8M386.40 142.44h1.8M386.40 144.22h1.8M388.48 140.51h1.8M388.48 142.29h1.8M390.56 139.79h1.8M390.56 141.60h1.8M392.65 141.16h1.8M392.65 142.82h1.8M394.73 141.11h1.8M394.73 142.90h1.8M396.81 139.95h1.8M396.81 143.11h1.8M398.89 129.77h1.8M398.89 133.35h1.8M400.98 116.09h1.8M400.98 120.58h1.8M403.06 104.76h1.8M403.06 109.91h1.8M405.14 96.52h1.8M405.14 101.37h1.8M407.22 89.41h1.8M407.22 96.09h1.8M409.31 83.90h1.8M409.31 91.25h1.8M411.39 80.65h1.8M411.39 87.95h1.8M413.47 78.16h1.8M413.47 85.70h1.8M415.56 74.86h1.8M415.56 84.18h1.8M417.64 73.65h1.8M417.64 83.97h1.8M419.72 73.79h1.8M419.72 82.33h1.8M421.80 73.49h1.8M421.80 85.01h1.8M423.89 73.88h1.8M423.89 85.28h1.8M425.97 72.22h1.8M425.97 81.23h1.8M428.05 71.75h1.8M428.05 80.44h1.8M430.14 73.91h1.8M430.14 83.51h1.8M432.22 70.76h1.8M432.22 82.10h1.8M434.30 72.39h1.8M434.30 81.75h1.8M436.38 71.37h1.8M436.38 81.45h1.8M438.47 71.64h1.8M438.47 83.05h1.8M440.55 71.89h1.8M440.55 81.98h1.8M442.63 71.98h1.8M442.63 81.48h1.8M444.71 72.75h1.8M444.71 81.74h1.8M446.80 72.38h1.8M446.80 83.84h1.8M448.88 75.05h1.8M448.88 84.07h1.8M450.96 75.47h1.8M450.96 86.46h1.8M453.05 73.31h1.8M453.05 83.82h1.8M455.13 74.23h1.8M455.13 83.86h1.8M457.21 74.20h1.8M457.21 84.53h1.8M459.29 75.91h1.8M459.29 87.20h1.8M461.38 73.41h1.8M461.38 83.90h1.8M463.46 74.80h1.8M463.46 84.54h1.8M465.54 75.97h1.8M465.54 87.61h1.8M467.63 78.05h1.8M467.63 88.37h1.8M469.71 79.05h1.8M469.71 88.94h1.8M471.79 77.51h1.8M471.79 86.56h1.8" stroke="#3550a8" stroke-opacity="0.75" stroke-width="0.9" fill="none"/>
<path d="M374.80 140.83 L376.88 141.72 L378.97 141.79 L381.05 142.46 L383.13 142.63 L385.21 142.65 L387.30 143.33 L389.38 141.40 L391.46 140.70 L393.55 141.99 L395.63 142.00 L397.71 141.53 L399.79 131.56 L401.88 118.34 L403.96 107.34 L406.04 98.94 L408.12 92.75 L410.21 87.58 L412.29 84.30 L414.37 81.93 L416.46 79.52 L418.54 78.81 L420.62 78.06 L422.70 79.25 L424.79 79.58 L426.87 76.72 L428.95 76.10 L431.04 78.71 L433.12 76.43 L435.20 77.07 L437.28 76.41 L439.37 77.35 L441.45 76.93 L443.53 76.73 L445.61 77.25 L447.70 78.11 L449.78 79.56 L451.86 80.96 L453.95 78.56 L456.03 79.04 L458.11 79.37 L460.19 81.56 L462.28 78.66 L464.36 79.67 L466.44 81.79 L468.53 83.21 L470.61 84.00 L472.69 82.04" stroke="#3550a8" stroke-width="1" fill="none" stroke-linejoin="round"/>
<g fill="#3550a8"><circle cx="374.80" cy="140.83" r="0.75"/><circle cx="376.88" cy="141.72" r="0.75"/><circle cx="378.97" cy="141.79" r="0.75"/><circle cx="381.05" cy="142.46" r="0.75"/><circle cx="383.13" cy="142.63" r="0.75"/><circle cx="385.21" cy="142.65" r="0.75"/><circle cx="387.30" cy="143.33" r="0.75"/><circle cx="389.38" cy="141.40" r="0.75"/><circle cx="391.46" cy="140.70" r="0.75"/><circle cx="393.55" cy="141.99" r="0.75"/><circle cx="395.63" cy="142.00" r="0.75"/><circle cx="397.71" cy="141.53" r="0.75"/><circle cx="399.79" cy="131.56" r="0.75"/><circle cx="401.88" cy="118.34" r="0.75"/><circle cx="403.96" cy="107.34" r="0.75"/><circle cx="406.04" cy="98.94" r="0.75"/><circle cx="408.12" cy="92.75" r="0.75"/><circle cx="410.21" cy="87.58" r="0.75"/><circle cx="412.29" cy="84.30" r="0.75"/><circle cx="414.37" cy="81.93" r="0.75"/><circle cx="416.46" cy="79.52" r="0.75"/><circle cx="418.54" cy="78.81" r="0.75"/><circle cx="420.62" cy="78.06" r="0.75"/><circle cx="422.70" cy="79.25" r="0.75"/><circle cx="424.79" cy="79.58" r="0.75"/><circle cx="426.87" cy="76.72" r="0.75"/><circle cx="428.95" cy="76.10" r="0.75"/><circle cx="431.04" cy="78.71" r="0.75"/><circle cx="433.12" cy="76.43" r="0.75"/><circle cx="435.20" cy="77.07" r="0.75"/><circle cx="437.28" cy="76.41" r="0.75"/><circle cx="439.37" cy="77.35" r="0.75"/><circle cx="441.45" cy="76.93" r="0.75"/><circle cx="443.53" cy="76.73" r="0.75"/><circle cx="445.61" cy="77.25" r="0.75"/><circle cx="447.70" cy="78.11" r="0.75"/><circle cx="449.78" cy="79.56" r="0.75"/><circle cx="451.86" cy="80.96" r="0.75"/><circle cx="453.95" cy="78.56" r="0.75"/><circle cx="456.03" cy="79.04" r="0.75"/><circle cx="458.11" cy="79.37" r="0.75"/><circle cx="460.19" cy="81.56" r="0.75"/><circle cx="462.28" cy="78.66" r="0.75"/><circle cx="464.36" cy="79.67" r="0.75"/><circle cx="466.44" cy="81.79" r="0.75"/><circle cx="468.53" cy="83.21" r="0.75"/><circle cx="470.61" cy="84.00" r="0.75"/><circle cx="472.69" cy="82.04" r="0.75"/></g>
<path d="M374.50 140.74V142.59M376.50 141.10V142.64M378.50 142.06V143.78M381.50 142.29V144.05M383.50 140.95V142.39M385.50 140.87V142.36M387.50 141.36V143.04M389.50 141.20V143.09M391.50 140.44V142.20M393.50 140.83V142.26M395.50 140.73V142.20M397.50 139.14V142.25M399.50 129.45V133.31M401.50 114.98V118.84M403.50 101.16V105.36M406.50 90.80V96.78M408.50 84.24V89.26M410.50 78.13V84.66M412.50 74.57V81.11M414.50 73.23V79.94M416.50 68.84V76.75M418.50 68.28V76.15M420.50 66.68V76.65M422.50 66.00V75.94M424.50 65.71V73.69M426.50 63.19V72.61M428.50 65.85V73.88M431.50 64.30V74.45M433.50 63.79V74.42M435.50 66.14V74.42M437.50 65.77V75.11M439.50 65.31V75.06M441.50 66.83V75.59M443.50 67.68V76.42M445.50 65.48V75.65M447.50 66.81V76.77M449.50 66.16V76.21M451.50 68.14V77.37M453.50 68.90V77.42M456.50 70.12V78.28M458.50 69.35V78.20M460.50 68.95V79.02M462.50 70.05V80.00M464.50 71.92V80.56M466.50 71.01V81.19M468.50 71.37V80.77M470.50 70.98V81.68M472.50 71.22V79.72" stroke="#555555" stroke-width="0.75" fill="none"/>
<path d="M373.90 140.74h1.8M373.90 142.59h1.8M375.98 141.10h1.8M375.98 142.64h1.8M378.07 142.06h1.8M378.07 143.78h1.8M380.15 142.29h1.8M380.15 144.05h1.8M382.23 140.95h1.8M382.23 142.39h1.8M384.31 140.87h1.8M384.31 142.36h1.8M386.40 141.36h1.8M386.40 143.04h1.8M388.48 141.20h1.8M388.48 143.09h1.8M390.56 140.44h1.8M390.56 142.20h1.8M392.65 140.83h1.8M392.65 142.26h1.8M394.73 140.73h1.8M394.73 142.20h1.8M396.81 139.14h1.8M396.81 142.25h1.8M398.89 129.45h1.8M398.89 133.31h1.8M400.98 114.98h1.8M400.98 118.84h1.8M403.06 101.16h1.8M403.06 105.36h1.8M405.14 90.80h1.8M405.14 96.78h1.8M407.22 84.24h1.8M407.22 89.26h1.8M409.31 78.13h1.8M409.31 84.66h1.8M411.39 74.57h1.8M411.39 81.11h1.8M413.47 73.23h1.8M413.47 79.94h1.8M415.56 68.84h1.8M415.56 76.75h1.8M417.64 68.28h1.8M417.64 76.15h1.8M419.72 66.68h1.8M419.72 76.65h1.8M421.80 66.00h1.8M421.80 75.94h1.8M423.89 65.71h1.8M423.89 73.69h1.8M425.97 63.19h1.8M425.97 72.61h1.8M428.05 65.85h1.8M428.05 73.88h1.8M430.14 64.30h1.8M430.14 74.45h1.8M432.22 63.79h1.8M432.22 74.42h1.8M434.30 66.14h1.8M434.30 74.42h1.8M436.38 65.77h1.8M436.38 75.11h1.8M438.47 65.31h1.8M438.47 75.06h1.8M440.55 66.83h1.8M440.55 75.59h1.8M442.63 67.68h1.8M442.63 76.42h1.8M444.71 65.48h1.8M444.71 75.65h1.8M446.80 66.81h1.8M446.80 76.77h1.8M448.88 66.16h1.8M448.88 76.21h1.8M450.96 68.14h1.8M450.96 77.37h1.8M453.05 68.90h1.8M453.05 77.42h1.8M455.13 70.12h1.8M455.13 78.28h1.8M457.21 69.35h1.8M457.21 78.20h1.8M459.29 68.95h1.8M459.29 79.02h1.8M461.38 70.05h1.8M461.38 80.00h1.8M463.46 71.92h1.8M463.46 80.56h1.8M465.54 71.01h1.8M465.54 81.19h1.8M467.63 71.37h1.8M467.63 80.77h1.8M469.71 70.98h1.8M469.71 81.68h1.8M471.79 71.22h1.8M471.79 79.72h1.8" stroke="#151515" stroke-opacity="0.75" stroke-width="0.9" fill="none"/>
<path d="M374.80 141.66 L376.88 141.87 L378.97 142.92 L381.05 143.17 L383.13 141.67 L385.21 141.62 L387.30 142.20 L389.38 142.14 L391.46 141.32 L393.55 141.54 L395.63 141.46 L397.71 140.69 L399.79 131.38 L401.88 116.91 L403.96 103.26 L406.04 93.79 L408.12 86.75 L410.21 81.40 L412.29 77.84 L414.37 76.58 L416.46 72.80 L418.54 72.22 L420.62 71.67 L422.70 70.97 L424.79 69.70 L426.87 67.90 L428.95 69.86 L431.04 69.37 L433.12 69.11 L435.20 70.28 L437.28 70.44 L439.37 70.19 L441.45 71.21 L443.53 72.05 L445.61 70.56 L447.70 71.79 L449.78 71.19 L451.86 72.76 L453.95 73.16 L456.03 74.20 L458.11 73.78 L460.19 73.98 L462.28 75.02 L464.36 76.24 L466.44 76.10 L468.53 76.07 L470.61 76.33 L472.69 75.47" stroke="#151515" stroke-width="1" fill="none" stroke-linejoin="round"/>
<g fill="#151515"><circle cx="374.80" cy="141.66" r="0.75"/><circle cx="376.88" cy="141.87" r="0.75"/><circle cx="378.97" cy="142.92" r="0.75"/><circle cx="381.05" cy="143.17" r="0.75"/><circle cx="383.13" cy="141.67" r="0.75"/><circle cx="385.21" cy="141.62" r="0.75"/><circle cx="387.30" cy="142.20" r="0.75"/><circle cx="389.38" cy="142.14" r="0.75"/><circle cx="391.46" cy="141.32" r="0.75"/><circle cx="393.55" cy="141.54" r="0.75"/><circle cx="395.63" cy="141.46" r="0.75"/><circle cx="397.71" cy="140.69" r="0.75"/><circle cx="399.79" cy="131.38" r="0.75"/><circle cx="401.88" cy="116.91" r="0.75"/><circle cx="403.96" cy="103.26" r="0.75"/><circle cx="406.04" cy="93.79" r="0.75"/><circle cx="408.12" cy="86.75" r="0.75"/><circle cx="410.21" cy="81.40" r="0.75"/><circle cx="412.29" cy="77.84" r="0.75"/><circle cx="414.37" cy="76.58" r="0.75"/><circle cx="416.46" cy="72.80" r="0.75"/><circle cx="418.54" cy="72.22" r="0.75"/><circle cx="420.62" cy="71.67" r="0.75"/><circle cx="422.70" cy="70.97" r="0.75"/><circle cx="424.79" cy="69.70" r="0.75"/><circle cx="426.87" cy="67.90" r="0.75"/><circle cx="428.95" cy="69.86" r="0.75"/><circle cx="431.04" cy="69.37" r="0.75"/><circle cx="433.12" cy="69.11" r="0.75"/><circle cx="435.20" cy="70.28" r="0.75"/><circle cx="437.28" cy="70.44" r="0.75"/><circle cx="439.37" cy="70.19" r="0.75"/><circle cx="441.45" cy="71.21" r="0.75"/><circle cx="443.53" cy="72.05" r="0.75"/><circle cx="445.61" cy="70.56" r="0.75"/><circle cx="447.70" cy="71.79" r="0.75"/><circle cx="449.78" cy="71.19" r="0.75"/><circle cx="451.86" cy="72.76" r="0.75"/><circle cx="453.95" cy="73.16" r="0.75"/><circle cx="456.03" cy="74.20" r="0.75"/><circle cx="458.11" cy="73.78" r="0.75"/><circle cx="460.19" cy="73.98" r="0.75"/><circle cx="462.28" cy="75.02" r="0.75"/><circle cx="464.36" cy="76.24" r="0.75"/><circle cx="466.44" cy="76.10" r="0.75"/><circle cx="468.53" cy="76.07" r="0.75"/><circle cx="470.61" cy="76.33" r="0.75"/><circle cx="472.69" cy="75.47" r="0.75"/></g>
<defs><filter id="bl" x="-20%" y="-50%" width="140%" height="200%"><feGaussianBlur stdDeviation="0.5 0.7"/></filter><filter id="bl2" x="-20%" y="-50%" width="140%" height="200%"><feGaussianBlur stdDeviation="0.8"/></filter></defs>
<rect x="70.00" y="248.70" width="153.00" height="77.30" fill="#e0e0e0"/>
<g filter="url(#bl2)">
<rect x="71.90" y="251.70" width="11.80" height="69.30" fill="#d8d8d8"/>
<rect x="71.90" y="290.00" width="11.80" height="14.00" fill="#d2d2d2"/>
<rect x="88.50" y="251.70" width="10.50" height="69.30" fill="#d8d8d8"/>
<rect x="88.50" y="290.00" width="10.50" height="14.00" fill="#d2d2d2"/>
<rect x="103.10" y="251.70" width="10.60" height="69.30" fill="#d8d8d8"/>
<rect x="103.10" y="290.00" width="10.60" height="14.00" fill="#d2d2d2"/>
<rect x="117.70" y="251.70" width="12.10" height="69.30" fill="#d8d8d8"/>
<rect x="117.70" y="290.00" width="12.10" height="14.00" fill="#d2d2d2"/>
<rect x="133.10" y="251.70" width="12.10" height="69.30" fill="#d8d8d8"/>
<rect x="133.10" y="290.00" width="12.10" height="14.00" fill="#d2d2d2"/>
<rect x="159.00" y="251.70" width="12.90" height="69.30" fill="#d8d8d8"/>
<rect x="159.00" y="290.00" width="12.90" height="14.00" fill="#d2d2d2"/>
<rect x="175.50" y="251.70" width="11.30" height="69.30" fill="#d8d8d8"/>
<rect x="175.50" y="290.00" width="11.30" height="14.00" fill="#d2d2d2"/>
<rect x="190.90" y="251.70" width="11.80" height="69.30" fill="#d8d8d8"/>
<rect x="190.90" y="290.00" width="11.80" height="14.00" fill="#d2d2d2"/>
<rect x="207.00" y="251.70" width="14.40" height="69.30" fill="#d8d8d8"/>
<rect x="207.00" y="290.00" width="14.40" height="14.00" fill="#d2d2d2"/>
</g>
<g filter="url(#bl)">
<rect x="71.40" y="254.45" width="12.80" height="1.50" rx="1" fill="rgb(205,205,205)"/>
<rect x="71.40" y="260.65" width="12.80" height="1.50" rx="1" fill="rgb(195,195,195)"/>
<rect x="71.40" y="267.59" width="12.80" height="2.43" rx="1" fill="rgb(40,40,40)"/>
<rect x="71.40" y="273.75" width="12.80" height="1.50" rx="1" fill="rgb(167,167,167)"/>
<rect x="71.40" y="276.90" width="12.80" height="1.20" rx="1" fill="rgb(192,192,192)"/>
<rect x="71.40" y="281.60" width="12.80" height="1.20" rx="1" fill="rgb(205,205,205)"/>
<rect x="71.40" y="285.30" width="12.80" height="1.40" rx="1" fill="rgb(135,135,135)"/>
<rect x="71.40" y="287.59" width="12.80" height="2.43" rx="1" fill="rgb(51,51,51)"/>
<rect x="71.40" y="296.75" width="12.80" height="1.50" rx="1" fill="rgb(192,192,192)"/>
<rect x="71.40" y="300.65" width="12.80" height="1.50" rx="1" fill="rgb(205,205,205)"/>
<rect x="71.40" y="308.80" width="12.80" height="1.20" rx="1" fill="rgb(175,175,175)"/>
<rect x="88.00" y="252.02" width="11.50" height="1.76" rx="1" fill="rgb(51,51,51)"/>
<rect x="88.00" y="259.95" width="11.50" height="1.30" rx="1" fill="rgb(159,159,159)"/>
<rect x="88.00" y="262.35" width="11.50" height="1.30" rx="1" fill="rgb(159,159,159)"/>
<rect x="88.00" y="266.28" width="11.50" height="4.05" rx="1" fill="rgb(8,8,8)"/>
<rect x="88.00" y="273.70" width="11.50" height="1.60" rx="1" fill="rgb(62,62,62)"/>
<rect x="88.00" y="277.65" width="11.50" height="1.30" rx="1" fill="rgb(175,175,175)"/>
<rect x="88.00" y="281.45" width="11.50" height="1.50" rx="1" fill="rgb(151,151,151)"/>
<rect x="88.00" y="284.80" width="11.50" height="1.80" rx="1" fill="rgb(62,62,62)"/>
<rect x="88.00" y="286.61" width="11.50" height="3.38" rx="1" fill="rgb(8,8,8)"/>
<rect x="88.00" y="309.90" width="11.50" height="1.40" rx="1" fill="rgb(73,73,73)"/>
<rect x="102.60" y="258.85" width="11.60" height="1.30" rx="1" fill="rgb(184,184,184)"/>
<rect x="102.60" y="261.15" width="11.60" height="1.30" rx="1" fill="rgb(184,184,184)"/>
<rect x="102.60" y="266.95" width="11.60" height="2.70" rx="1" fill="rgb(40,40,40)"/>
<rect x="102.60" y="272.95" width="11.60" height="1.50" rx="1" fill="rgb(143,143,143)"/>
<rect x="102.60" y="276.85" width="11.60" height="1.30" rx="1" fill="rgb(184,184,184)"/>
<rect x="102.60" y="284.50" width="11.60" height="1.40" rx="1" fill="rgb(151,151,151)"/>
<rect x="102.60" y="286.59" width="11.60" height="2.43" rx="1" fill="rgb(30,30,30)"/>
<rect x="102.60" y="308.40" width="11.60" height="1.20" rx="1" fill="rgb(151,151,151)"/>
<rect x="117.20" y="258.35" width="13.10" height="1.30" rx="1" fill="rgb(184,184,184)"/>
<rect x="117.20" y="260.75" width="13.10" height="1.30" rx="1" fill="rgb(184,184,184)"/>
<rect x="117.20" y="265.85" width="13.10" height="2.70" rx="1" fill="rgb(30,30,30)"/>
<rect x="117.20" y="272.65" width="13.10" height="1.50" rx="1" fill="rgb(143,143,143)"/>
<rect x="117.20" y="276.15" width="13.10" height="1.30" rx="1" fill="rgb(184,184,184)"/>
<rect x="117.20" y="283.80" width="13.10" height="1.40" rx="1" fill="rgb(151,151,151)"/>
<rect x="117.20" y="285.99" width="13.10" height="2.43" rx="1" fill="rgb(30,30,30)"/>
<rect x="117.20" y="308.20" width="13.10" height="1.20" rx="1" fill="rgb(151,151,151)"/>
<rect x="132.60" y="256.85" width="13.10" height="1.30" rx="1" fill="rgb(184,184,184)"/>
<rect x="132.60" y="259.95" width="13.10" height="1.30" rx="1" fill="rgb(184,184,184)"/>
<rect x="132.60" y="264.65" width="13.10" height="2.70" rx="1" fill="rgb(30,30,30)"/>
<rect x="132.60" y="271.45" width="13.10" height="1.50" rx="1" fill="rgb(151,151,151)"/>
<rect x="132.60" y="275.35" width="13.10" height="1.30" rx="1" fill="rgb(184,184,184)"/>
<rect x="132.60" y="282.30" width="13.10" height="1.40" rx="1" fill="rgb(151,151,151)"/>
<rect x="132.60" y="284.79" width="13.10" height="2.43" rx="1" fill="rgb(30,30,30)"/>
<rect x="132.60" y="307.70" width="13.10" height="1.20" rx="1" fill="rgb(159,159,159)"/>
<rect x="158.50" y="255.35" width="13.90" height="1.30" rx="1" fill="rgb(184,184,184)"/>
<rect x="158.50" y="257.65" width="13.90" height="1.30" rx="1" fill="rgb(184,184,184)"/>
<rect x="158.50" y="262.75" width="13.90" height="3.51" rx="1" fill="rgb(8,8,8)"/>
<rect x="158.50" y="269.15" width="13.90" height="2.29" rx="1" fill="rgb(51,51,51)"/>
<rect x="158.50" y="273.85" width="13.90" height="1.30" rx="1" fill="rgb(184,184,184)"/>
<rect x="158.50" y="277.65" width="13.90" height="1.30" rx="1" fill="rgb(167,167,167)"/>
<rect x="158.50" y="281.45" width="13.90" height="1.50" rx="1" fill="rgb(135,135,135)"/>
<rect x="158.50" y="283.18" width="13.90" height="3.24" rx="1" fill="rgb(8,8,8)"/>
<rect x="158.50" y="306.55" width="13.90" height="1.30" rx="1" fill="rgb(73,73,73)"/>
<rect x="175.00" y="255.35" width="12.30" height="1.30" rx="1" fill="rgb(184,184,184)"/>
<rect x="175.00" y="257.65" width="12.30" height="1.30" rx="1" fill="rgb(184,184,184)"/>
<rect x="175.00" y="262.71" width="12.30" height="2.97" rx="1" fill="rgb(19,19,19)"/>
<rect x="175.00" y="269.50" width="12.30" height="1.60" rx="1" fill="rgb(73,73,73)"/>
<rect x="175.00" y="277.65" width="12.30" height="1.30" rx="1" fill="rgb(175,175,175)"/>
<rect x="175.00" y="281.00" width="12.30" height="1.40" rx="1" fill="rgb(143,143,143)"/>
<rect x="175.00" y="282.35" width="12.30" height="2.70" rx="1" fill="rgb(19,19,19)"/>
<rect x="175.00" y="306.20" width="12.30" height="1.20" rx="1" fill="rgb(90,90,90)"/>
<rect x="190.40" y="254.85" width="12.80" height="1.30" rx="1" fill="rgb(192,192,192)"/>
<rect x="190.40" y="257.35" width="12.80" height="1.30" rx="1" fill="rgb(184,184,184)"/>
<rect x="190.40" y="262.21" width="12.80" height="2.97" rx="1" fill="rgb(19,19,19)"/>
<rect x="190.40" y="269.00" width="12.80" height="1.60" rx="1" fill="rgb(73,73,73)"/>
<rect x="190.40" y="276.85" width="12.80" height="1.30" rx="1" fill="rgb(175,175,175)"/>
<rect x="190.40" y="280.30" width="12.80" height="1.40" rx="1" fill="rgb(143,143,143)"/>
<rect x="190.40" y="282.05" width="12.80" height="2.70" rx="1" fill="rgb(19,19,19)"/>
<rect x="190.40" y="305.40" width="12.80" height="1.20" rx="1" fill="rgb(94,94,94)"/>
<rect x="206.50" y="254.35" width="15.40" height="1.30" rx="1" fill="rgb(192,192,192)"/>
<rect x="206.50" y="256.85" width="15.40" height="1.30" rx="1" fill="rgb(184,184,184)"/>
<rect x="206.50" y="261.12" width="15.40" height="2.97" rx="1" fill="rgb(30,30,30)"/>
<rect x="206.50" y="268.20" width="15.40" height="1.60" rx="1" fill="rgb(94,94,94)"/>
<rect x="206.50" y="276.15" width="15.40" height="1.30" rx="1" fill="rgb(175,175,175)"/>
<rect x="206.50" y="280.30" width="15.40" height="1.40" rx="1" fill="rgb(143,143,143)"/>
<rect x="206.50" y="281.65" width="15.40" height="2.70" rx="1" fill="rgb(19,19,19)"/>
<rect x="206.50" y="304.30" width="15.40" height="1.20" rx="1" fill="rgb(94,94,94)"/>
<rect x="160.50" y="318" width="9.90" height="1.2" fill="rgb(198,198,198)"/>
<rect x="177.00" y="318" width="8.30" height="1.2" fill="rgb(198,198,198)"/>
<rect x="192.40" y="318" width="8.80" height="1.2" fill="rgb(198,198,198)"/>
<rect x="208.50" y="318" width="11.40" height="1.2" fill="rgb(198,198,198)"/>
</g>
<path d="M70.00 248.70V326.00H223.00V248.70" fill="none" stroke="#2a2a2a" stroke-width="1.4"/>
<path d="M69.30 248.70H223.70" fill="none" stroke="#808080" stroke-width="1.6"/>
<rect x="70.00" y="328.60" width="153.00" height="13.80" fill="#e0e0e0"/>
<g filter="url(#bl)">
<rect x="71.70" y="336.60" width="13.20" height="2.8" rx="1.4" fill="#0c0c0c"/>
<rect x="88.30" y="336.10" width="11.90" height="2.8" rx="1.4" fill="#0c0c0c"/>
<rect x="102.90" y="335.80" width="12.00" height="2.8" rx="1.4" fill="#0c0c0c"/>
<rect x="117.50" y="335.10" width="13.50" height="2.8" rx="1.4" fill="#0c0c0c"/>
<rect x="132.90" y="334.10" width="13.50" height="2.8" rx="1.4" fill="#0c0c0c"/>
<rect x="158.80" y="333.30" width="14.30" height="2.8" rx="1.4" fill="#0c0c0c"/>
<rect x="175.30" y="332.80" width="12.70" height="2.8" rx="1.4" fill="#0c0c0c"/>
<rect x="190.70" y="332.30" width="13.20" height="2.8" rx="1.4" fill="#0c0c0c"/>
<rect x="206.80" y="331.70" width="15.80" height="2.8" rx="1.4" fill="#0c0c0c"/>
</g>
<rect x="70.00" y="328.60" width="153.00" height="13.80" fill="none" stroke="#2a2a2a" stroke-width="1.4"/>
<text x="146.80" y="242.70" font-size="9.6" text-anchor="middle" fill="#1a1a1a" color="#1a1a1a" textLength="129.3" lengthAdjust="spacingAndGlyphs">Phospho-(Ser) PKC Substrate</text>
<text x="66.20" y="253.70" font-size="8.2" text-anchor="end" fill="#1a1a1a" color="#1a1a1a">150</text>
<text x="66.20" y="265.30" font-size="8.2" text-anchor="end" fill="#1a1a1a" color="#1a1a1a">100</text>
<text x="66.20" y="275.20" font-size="8.2" text-anchor="end" fill="#1a1a1a" color="#1a1a1a">75</text>
<text x="66.20" y="288.30" font-size="8.2" text-anchor="end" fill="#1a1a1a" color="#1a1a1a">50</text>
<text x="66.20" y="298.70" font-size="8.2" text-anchor="end" fill="#1a1a1a" color="#1a1a1a">37</text>
<text x="66.20" y="314.60" font-size="8.2" text-anchor="end" fill="#1a1a1a" color="#1a1a1a">25</text>
<text x="65.80" y="337.50" font-size="8.4" text-anchor="end" fill="#1a1a1a" color="#1a1a1a" textLength="33.3" lengthAdjust="spacingAndGlyphs">Pleckstrin</text>
<text x="66.10" y="353.90" font-size="8.2" text-anchor="end" fill="#1a1a1a" color="#1a1a1a" textLength="32.7" lengthAdjust="spacingAndGlyphs">Thrombin</text>
<line x1="78.00" y1="351.20" x2="79.80" y2="351.20" stroke="#444" stroke-width="0.9"/>
<path d="M92.80 351.20H97.40M95.10 348.90V353.50" stroke="#222" stroke-width="1.2" fill="none"/>
<path d="M107.80 351.20H112.40M110.10 348.90V353.50" stroke="#222" stroke-width="1.2" fill="none"/>
<path d="M122.80 351.20H127.40M125.10 348.90V353.50" stroke="#222" stroke-width="1.2" fill="none"/>
<path d="M138.00 351.20H142.60M140.30 348.90V353.50" stroke="#222" stroke-width="1.2" fill="none"/>
<line x1="165.00" y1="351.20" x2="166.80" y2="351.20" stroke="#444" stroke-width="0.9"/>
<line x1="181.30" y1="351.20" x2="183.10" y2="351.20" stroke="#444" stroke-width="0.9"/>
<line x1="197.60" y1="351.20" x2="199.40" y2="351.20" stroke="#444" stroke-width="0.9"/>
<line x1="214.00" y1="351.20" x2="215.80" y2="351.20" stroke="#444" stroke-width="0.9"/>
<text x="66.10" y="365.90" font-size="8.2" text-anchor="end" fill="#1a1a1a" color="#1a1a1a" textLength="34.0" lengthAdjust="spacingAndGlyphs">Convulxin</text>
<line x1="78.00" y1="363.20" x2="79.80" y2="363.20" stroke="#444" stroke-width="0.9"/>
<line x1="94.20" y1="363.20" x2="96.00" y2="363.20" stroke="#444" stroke-width="0.9"/>
<line x1="109.20" y1="363.20" x2="111.00" y2="363.20" stroke="#444" stroke-width="0.9"/>
<line x1="124.20" y1="363.20" x2="126.00" y2="363.20" stroke="#444" stroke-width="0.9"/>
<line x1="139.40" y1="363.20" x2="141.20" y2="363.20" stroke="#444" stroke-width="0.9"/>
<path d="M163.60 363.20H168.20M165.90 360.90V365.50" stroke="#222" stroke-width="1.2" fill="none"/>
<path d="M179.90 363.20H184.50M182.20 360.90V365.50" stroke="#222" stroke-width="1.2" fill="none"/>
<path d="M196.20 363.20H200.80M198.50 360.90V365.50" stroke="#222" stroke-width="1.2" fill="none"/>
<path d="M212.60 363.20H217.20M214.90 360.90V365.50" stroke="#222" stroke-width="1.2" fill="none"/>
<text x="66.10" y="378.70" font-size="8.2" text-anchor="end" fill="#1a1a1a" color="#1a1a1a" textLength="24.9" lengthAdjust="spacingAndGlyphs">DPA<tspan font-size="6.1" dy="2.4">n-6</tspan></text>
<line x1="78.00" y1="376.00" x2="79.80" y2="376.00" stroke="#444" stroke-width="0.9"/>
<line x1="94.20" y1="376.00" x2="96.00" y2="376.00" stroke="#444" stroke-width="0.9"/>
<path d="M107.80 376.00H112.40M110.10 373.70V378.30" stroke="#222" stroke-width="1.2" fill="none"/>
<line x1="124.20" y1="376.00" x2="126.00" y2="376.00" stroke="#444" stroke-width="0.9"/>
<line x1="139.40" y1="376.00" x2="141.20" y2="376.00" stroke="#444" stroke-width="0.9"/>
<line x1="165.00" y1="376.00" x2="166.80" y2="376.00" stroke="#444" stroke-width="0.9"/>
<path d="M179.90 376.00H184.50M182.20 373.70V378.30" stroke="#222" stroke-width="1.2" fill="none"/>
<line x1="197.60" y1="376.00" x2="199.40" y2="376.00" stroke="#444" stroke-width="0.9"/>
<line x1="214.00" y1="376.00" x2="215.80" y2="376.00" stroke="#444" stroke-width="0.9"/>
<text x="66.10" y="390.70" font-size="8.2" text-anchor="end" fill="#1a1a1a" color="#1a1a1a" textLength="47.1" lengthAdjust="spacingAndGlyphs">11-HpDPA<tspan font-size="6.1" dy="2.4">n-6</tspan></text>
<line x1="78.00" y1="388.00" x2="79.80" y2="388.00" stroke="#444" stroke-width="0.9"/>
<line x1="94.20" y1="388.00" x2="96.00" y2="388.00" stroke="#444" stroke-width="0.9"/>
<line x1="109.20" y1="388.00" x2="111.00" y2="388.00" stroke="#444" stroke-width="0.9"/>
<path d="M122.80 388.00H127.40M125.10 385.70V390.30" stroke="#222" stroke-width="1.2" fill="none"/>
<line x1="139.40" y1="388.00" x2="141.20" y2="388.00" stroke="#444" stroke-width="0.9"/>
<line x1="165.00" y1="388.00" x2="166.80" y2="388.00" stroke="#444" stroke-width="0.9"/>
<line x1="181.30" y1="388.00" x2="183.10" y2="388.00" stroke="#444" stroke-width="0.9"/>
<path d="M196.20 388.00H200.80M198.50 385.70V390.30" stroke="#222" stroke-width="1.2" fill="none"/>
<line x1="214.00" y1="388.00" x2="215.80" y2="388.00" stroke="#444" stroke-width="0.9"/>
<text x="66.10" y="403.40" font-size="8.2" text-anchor="end" fill="#1a1a1a" color="#1a1a1a" textLength="47.3" lengthAdjust="spacingAndGlyphs">14-HpDPA<tspan font-size="6.1" dy="2.4">n-6</tspan></text>
<line x1="78.00" y1="400.70" x2="79.80" y2="400.70" stroke="#444" stroke-width="0.9"/>
<line x1="94.20" y1="400.70" x2="96.00" y2="400.70" stroke="#444" stroke-width="0.9"/>
<line x1="109.20" y1="400.70" x2="111.00" y2="400.70" stroke="#444" stroke-width="0.9"/>
<line x1="124.20" y1="400.70" x2="126.00" y2="400.70" stroke="#444" stroke-width="0.9"/>
<path d="M138.00 400.70H142.60M140.30 398.40V403.00" stroke="#222" stroke-width="1.2" fill="none"/>
<line x1="165.00" y1="400.70" x2="166.80" y2="400.70" stroke="#444" stroke-width="0.9"/>
<line x1="181.30" y1="400.70" x2="183.10" y2="400.70" stroke="#444" stroke-width="0.9"/>
<line x1="197.60" y1="400.70" x2="199.40" y2="400.70" stroke="#444" stroke-width="0.9"/>
<path d="M212.60 400.70H217.20M214.90 398.40V403.00" stroke="#222" stroke-width="1.2" fill="none"/>
<line x1="66.00" y1="478.70" x2="66.00" y2="560.10" stroke="#1a1a1a" stroke-width="1.4"/>
<line x1="65.30" y1="559.40" x2="220.60" y2="559.40" stroke="#1a1a1a" stroke-width="1.4"/>
<line x1="62.60" y1="559.20" x2="66.00" y2="559.20" stroke="#1a1a1a" stroke-width="1"/>
<text x="60.80" y="561.90" font-size="7.6" text-anchor="end" fill="#1a1a1a" color="#1a1a1a">0</text>
<line x1="62.60" y1="548.10" x2="66.00" y2="548.10" stroke="#1a1a1a" stroke-width="1"/>
<text x="60.80" y="550.80" font-size="7.6" text-anchor="end" fill="#1a1a1a" color="#1a1a1a">1</text>
<line x1="62.60" y1="537.00" x2="66.00" y2="537.00" stroke="#1a1a1a" stroke-width="1"/>
<text x="60.80" y="539.70" font-size="7.6" text-anchor="end" fill="#1a1a1a" color="#1a1a1a">2</text>
<line x1="62.60" y1="525.90" x2="66.00" y2="525.90" stroke="#1a1a1a" stroke-width="1"/>
<text x="60.80" y="528.60" font-size="7.6" text-anchor="end" fill="#1a1a1a" color="#1a1a1a">3</text>
<line x1="62.60" y1="514.80" x2="66.00" y2="514.80" stroke="#1a1a1a" stroke-width="1"/>
<text x="60.80" y="517.50" font-size="7.6" text-anchor="end" fill="#1a1a1a" color="#1a1a1a">4</text>
<line x1="62.60" y1="503.70" x2="66.00" y2="503.70" stroke="#1a1a1a" stroke-width="1"/>
<text x="60.80" y="506.40" font-size="7.6" text-anchor="end" fill="#1a1a1a" color="#1a1a1a">5</text>
<line x1="62.60" y1="492.60" x2="66.00" y2="492.60" stroke="#1a1a1a" stroke-width="1"/>
<text x="60.80" y="495.30" font-size="7.6" text-anchor="end" fill="#1a1a1a" color="#1a1a1a">6</text>
<line x1="62.60" y1="481.50" x2="66.00" y2="481.50" stroke="#1a1a1a" stroke-width="1"/>
<text x="60.80" y="484.20" font-size="7.6" text-anchor="end" fill="#1a1a1a" color="#1a1a1a">7</text>
<rect x="72.50" y="548.10" width="10.60" height="11.30" fill="#a30129"/>
<line x1="77.80" y1="559.40" x2="77.80" y2="562.00" stroke="#1a1a1a" stroke-width="0.9"/>
<rect x="89.30" y="529.45" width="10.60" height="29.95" fill="#2f4a7b"/>
<line x1="94.60" y1="529.45" x2="94.60" y2="524.35" stroke="#222" stroke-width="0.9"/>
<line x1="92.90" y1="524.35" x2="96.30" y2="524.35" stroke="#222" stroke-width="1.0"/>
<line x1="94.60" y1="559.40" x2="94.60" y2="562.00" stroke="#1a1a1a" stroke-width="0.9"/>
<rect x="106.10" y="537.67" width="10.60" height="21.73" fill="#2f4a7b"/>
<line x1="111.40" y1="537.67" x2="111.40" y2="534.23" stroke="#222" stroke-width="0.9"/>
<line x1="109.70" y1="534.23" x2="113.10" y2="534.23" stroke="#222" stroke-width="1.0"/>
<line x1="111.40" y1="559.40" x2="111.40" y2="562.00" stroke="#1a1a1a" stroke-width="0.9"/>
<rect x="122.90" y="536.56" width="10.60" height="22.84" fill="#2f4a7b"/>
<line x1="128.20" y1="536.56" x2="128.20" y2="534.34" stroke="#222" stroke-width="0.9"/>
<line x1="126.50" y1="534.34" x2="129.90" y2="534.34" stroke="#222" stroke-width="1.0"/>
<line x1="128.20" y1="559.40" x2="128.20" y2="562.00" stroke="#1a1a1a" stroke-width="0.9"/>
<rect x="139.50" y="538.89" width="10.60" height="20.51" fill="#2f4a7b"/>
<line x1="144.80" y1="538.89" x2="144.80" y2="534.23" stroke="#222" stroke-width="0.9"/>
<line x1="143.10" y1="534.23" x2="146.50" y2="534.23" stroke="#222" stroke-width="1.0"/>
<line x1="144.80" y1="559.40" x2="144.80" y2="562.00" stroke="#1a1a1a" stroke-width="0.9"/>
<rect x="156.10" y="501.26" width="10.60" height="58.14" fill="#6aa542"/>
<line x1="161.40" y1="501.26" x2="161.40" y2="487.05" stroke="#222" stroke-width="0.9"/>
<line x1="159.70" y1="487.05" x2="163.10" y2="487.05" stroke="#222" stroke-width="1.0"/>
<line x1="161.40" y1="559.40" x2="161.40" y2="562.00" stroke="#1a1a1a" stroke-width="0.9"/>
<rect x="172.80" y="523.01" width="10.60" height="36.39" fill="#6aa542"/>
<line x1="178.10" y1="523.01" x2="178.10" y2="516.13" stroke="#222" stroke-width="0.9"/>
<line x1="176.40" y1="516.13" x2="179.80" y2="516.13" stroke="#222" stroke-width="1.0"/>
<line x1="178.10" y1="559.40" x2="178.10" y2="562.00" stroke="#1a1a1a" stroke-width="0.9"/>
<rect x="189.40" y="518.02" width="10.60" height="41.38" fill="#6aa542"/>
<line x1="194.70" y1="518.02" x2="194.70" y2="506.25" stroke="#222" stroke-width="0.9"/>
<line x1="193.00" y1="506.25" x2="196.40" y2="506.25" stroke="#222" stroke-width="1.0"/>
<line x1="194.70" y1="559.40" x2="194.70" y2="562.00" stroke="#1a1a1a" stroke-width="0.9"/>
<rect x="206.30" y="529.23" width="10.60" height="30.17" fill="#6aa542"/>
<line x1="211.60" y1="529.23" x2="211.60" y2="524.35" stroke="#222" stroke-width="0.9"/>
<line x1="209.90" y1="524.35" x2="213.30" y2="524.35" stroke="#222" stroke-width="1.0"/>
<line x1="211.60" y1="559.40" x2="211.60" y2="562.00" stroke="#1a1a1a" stroke-width="0.9"/>
<path d="M94.50 515.00V512.50H111.50V527.00" stroke="#333" stroke-width="1" fill="none"/>
<circle cx="101.60" cy="508.20" r="1.05" fill="#262626"/>
<circle cx="104.80" cy="508.20" r="1.05" fill="#262626"/>
<path d="M94.50 507.40V503.50H128.50V527.00" stroke="#333" stroke-width="1" fill="none"/>
<circle cx="111.50" cy="499.20" r="1.05" fill="#262626"/>
<path d="M94.50 497.70V493.50H144.50V527.00" stroke="#333" stroke-width="1" fill="none"/>
<circle cx="118.00" cy="489.00" r="1.05" fill="#262626"/>
<circle cx="121.20" cy="489.00" r="1.05" fill="#262626"/>
<path d="M161.50 479.80V476.50H178.50V507.30" stroke="#333" stroke-width="1" fill="none"/>
<circle cx="169.80" cy="472.20" r="1.05" fill="#262626"/>
<path d="M161.50 471.60V466.50H194.50V494.00" stroke="#333" stroke-width="1" fill="none"/>
<circle cx="178.20" cy="462.90" r="1.05" fill="#262626"/>
<path d="M161.50 461.40V456.50H211.50V510.40" stroke="#333" stroke-width="1" fill="none"/>
<circle cx="185.10" cy="453.30" r="1.05" fill="#262626"/>
<circle cx="188.30" cy="453.30" r="1.05" fill="#262626"/>
<text x="38.50" y="519.00" font-size="10" text-anchor="middle" fill="#1a1a1a" color="#1a1a1a" font-weight="bold" textLength="36.5" lengthAdjust="spacingAndGlyphs" transform="rotate(-90 38.50 519.00)" class="cond">Fold change</text>
<text x="50.50" y="519.00" font-size="10" text-anchor="middle" fill="#1a1a1a" color="#1a1a1a" font-weight="bold" textLength="77" lengthAdjust="spacingAndGlyphs" transform="rotate(-90 50.50 519.00)" class="cond">(normalized to pleckstrin)</text>
<text x="82.00" y="569.00" font-size="8.2" text-anchor="end" fill="#1a1a1a" color="#1a1a1a" transform="rotate(-44 82.00 569.00)">Unstimulated</text>
<text x="98.80" y="569.00" font-size="8.2" text-anchor="end" fill="#1a1a1a" color="#1a1a1a" transform="rotate(-44 98.80 569.00)">Thrombin</text>
<text x="115.60" y="569.00" font-size="8.2" text-anchor="end" fill="#1a1a1a" color="#1a1a1a" transform="rotate(-44 115.60 569.00)">DPA<tspan font-size="6" dy="2.0">n-6</tspan></text>
<text x="132.40" y="569.00" font-size="8.2" text-anchor="end" fill="#1a1a1a" color="#1a1a1a" transform="rotate(-44 132.40 569.00)">11-HpDPA<tspan font-size="6" dy="2.0">n-6</tspan></text>
<text x="149.00" y="569.00" font-size="8.2" text-anchor="end" fill="#1a1a1a" color="#1a1a1a" transform="rotate(-44 149.00 569.00)">14-HpDPA<tspan font-size="6" dy="2.0">n-6</tspan></text>
<text x="165.60" y="569.00" font-size="8.2" text-anchor="end" fill="#1a1a1a" color="#1a1a1a" transform="rotate(-44 165.60 569.00)">Convulxin</text>
<text x="182.30" y="569.00" font-size="8.2" text-anchor="end" fill="#1a1a1a" color="#1a1a1a" transform="rotate(-44 182.30 569.00)">DPA<tspan font-size="6" dy="2.0">n-6</tspan></text>
<text x="198.90" y="569.00" font-size="8.2" text-anchor="end" fill="#1a1a1a" color="#1a1a1a" transform="rotate(-44 198.90 569.00)">11-HpDPA<tspan font-size="6" dy="2.0">n-6</tspan></text>
<text x="215.80" y="569.00" font-size="8.2" text-anchor="end" fill="#1a1a1a" color="#1a1a1a" transform="rotate(-44 215.80 569.00)">14-HpDPA<tspan font-size="6" dy="2.0">n-6</tspan></text>
<line x1="285.00" y1="268.00" x2="285.00" y2="361.70" stroke="#1a1a1a" stroke-width="1.4"/>
<line x1="284.30" y1="361.00" x2="373.90" y2="361.00" stroke="#1a1a1a" stroke-width="1.4"/>
<line x1="281.60" y1="361.00" x2="285.00" y2="361.00" stroke="#1a1a1a" stroke-width="1"/>
<text x="279.40" y="363.90" font-size="8.2" text-anchor="end" fill="#1a1a1a" color="#1a1a1a">0.0</text>
<line x1="281.60" y1="343.04" x2="285.00" y2="343.04" stroke="#1a1a1a" stroke-width="1"/>
<text x="279.40" y="345.94" font-size="8.2" text-anchor="end" fill="#1a1a1a" color="#1a1a1a">0.1</text>
<line x1="281.60" y1="325.08" x2="285.00" y2="325.08" stroke="#1a1a1a" stroke-width="1"/>
<text x="279.40" y="327.98" font-size="8.2" text-anchor="end" fill="#1a1a1a" color="#1a1a1a">0.2</text>
<line x1="281.60" y1="307.12" x2="285.00" y2="307.12" stroke="#1a1a1a" stroke-width="1"/>
<text x="279.40" y="310.02" font-size="8.2" text-anchor="end" fill="#1a1a1a" color="#1a1a1a">0.3</text>
<line x1="281.60" y1="289.16" x2="285.00" y2="289.16" stroke="#1a1a1a" stroke-width="1"/>
<text x="279.40" y="292.06" font-size="8.2" text-anchor="end" fill="#1a1a1a" color="#1a1a1a">0.4</text>
<line x1="281.60" y1="271.20" x2="285.00" y2="271.20" stroke="#1a1a1a" stroke-width="1"/>
<text x="279.40" y="274.10" font-size="8.2" text-anchor="end" fill="#1a1a1a" color="#1a1a1a">0.5</text>
<rect x="291.90" y="287.54" width="13.20" height="73.46" fill="#a30129"/>
<line x1="298.50" y1="287.54" x2="298.50" y2="274.25" stroke="#222" stroke-width="0.9"/>
<line x1="296.40" y1="274.25" x2="300.60" y2="274.25" stroke="#222" stroke-width="1.0"/>
<line x1="298.50" y1="361.00" x2="298.50" y2="363.60" stroke="#1a1a1a" stroke-width="0.9"/>
<rect x="312.70" y="315.02" width="13.20" height="45.98" fill="#a30129"/>
<line x1="319.30" y1="315.02" x2="319.30" y2="311.25" stroke="#222" stroke-width="0.9"/>
<line x1="317.20" y1="311.25" x2="321.40" y2="311.25" stroke="#222" stroke-width="1.0"/>
<line x1="319.30" y1="361.00" x2="319.30" y2="363.60" stroke="#1a1a1a" stroke-width="0.9"/>
<rect x="333.40" y="318.79" width="13.20" height="42.21" fill="#a30129"/>
<line x1="340.00" y1="318.79" x2="340.00" y2="311.25" stroke="#222" stroke-width="0.9"/>
<line x1="337.90" y1="311.25" x2="342.10" y2="311.25" stroke="#222" stroke-width="1.0"/>
<line x1="340.00" y1="361.00" x2="340.00" y2="363.60" stroke="#1a1a1a" stroke-width="0.9"/>
<rect x="354.00" y="334.78" width="13.20" height="26.22" fill="#a30129"/>
<line x1="360.60" y1="334.78" x2="360.60" y2="328.49" stroke="#222" stroke-width="0.9"/>
<line x1="358.50" y1="328.49" x2="362.70" y2="328.49" stroke="#222" stroke-width="1.0"/>
<line x1="360.60" y1="361.00" x2="360.60" y2="363.60" stroke="#1a1a1a" stroke-width="0.9"/>
<path d="M297.50 261.50V257.50H360.50V327.30" stroke="#333" stroke-width="1" fill="none"/>
<circle cx="327.70" cy="253.50" r="1.05" fill="#262626"/>
<circle cx="330.90" cy="253.50" r="1.05" fill="#262626"/>
<path d="M297.50 271.90V268.50H339.50V306.50" stroke="#333" stroke-width="1" fill="none"/>
<circle cx="319.20" cy="265.70" r="1.05" fill="#262626"/>
<text x="329.80" y="243.40" font-size="9.5" text-anchor="middle" fill="#1a1a1a" color="#1a1a1a">Thrombin (0.5 nM)</text>
<text x="261.70" y="314.90" font-size="10" text-anchor="middle" fill="#1a1a1a" color="#1a1a1a" font-weight="bold" textLength="58.3" lengthAdjust="spacingAndGlyphs" transform="rotate(-90 261.70 314.90)" class="cond">ATP secretion (nM)</text>
<text x="302.50" y="369.60" font-size="8.2" text-anchor="end" fill="#1a1a1a" color="#1a1a1a" transform="rotate(-44 302.50 369.60)">Vehicle ctrl</text>
<text x="323.30" y="369.60" font-size="8.2" text-anchor="end" fill="#1a1a1a" color="#1a1a1a" transform="rotate(-44 323.30 369.60)">DPA<tspan font-size="6" dy="2.0">n-6</tspan></text>
<text x="344.00" y="369.60" font-size="8.2" text-anchor="end" fill="#1a1a1a" color="#1a1a1a" transform="rotate(-44 344.00 369.60)">11-HpDPA<tspan font-size="6" dy="2.0">n-6</tspan></text>
<text x="364.60" y="369.60" font-size="8.2" text-anchor="end" fill="#1a1a1a" color="#1a1a1a" transform="rotate(-44 364.60 369.60)">14-HpDPA<tspan font-size="6" dy="2.0">n-6</tspan></text>
<line x1="422.50" y1="268.00" x2="422.50" y2="361.70" stroke="#1a1a1a" stroke-width="1.4"/>
<line x1="421.80" y1="361.00" x2="512.50" y2="361.00" stroke="#1a1a1a" stroke-width="1.4"/>
<line x1="419.10" y1="361.00" x2="422.50" y2="361.00" stroke="#1a1a1a" stroke-width="1"/>
<text x="416.90" y="363.90" font-size="8.2" text-anchor="end" fill="#1a1a1a" color="#1a1a1a">0.0</text>
<line x1="419.10" y1="342.52" x2="422.50" y2="342.52" stroke="#1a1a1a" stroke-width="1"/>
<text x="416.90" y="345.42" font-size="8.2" text-anchor="end" fill="#1a1a1a" color="#1a1a1a">0.1</text>
<line x1="419.10" y1="324.04" x2="422.50" y2="324.04" stroke="#1a1a1a" stroke-width="1"/>
<text x="416.90" y="326.94" font-size="8.2" text-anchor="end" fill="#1a1a1a" color="#1a1a1a">0.2</text>
<line x1="419.10" y1="305.56" x2="422.50" y2="305.56" stroke="#1a1a1a" stroke-width="1"/>
<text x="416.90" y="308.46" font-size="8.2" text-anchor="end" fill="#1a1a1a" color="#1a1a1a">0.3</text>
<line x1="419.10" y1="287.08" x2="422.50" y2="287.08" stroke="#1a1a1a" stroke-width="1"/>
<text x="416.90" y="289.98" font-size="8.2" text-anchor="end" fill="#1a1a1a" color="#1a1a1a">0.4</text>
<line x1="419.10" y1="268.60" x2="422.50" y2="268.60" stroke="#1a1a1a" stroke-width="1"/>
<text x="416.90" y="271.50" font-size="8.2" text-anchor="end" fill="#1a1a1a" color="#1a1a1a">0.5</text>
<rect x="429.90" y="309.81" width="13.20" height="51.19" fill="#a30129"/>
<line x1="436.50" y1="309.81" x2="436.50" y2="294.47" stroke="#222" stroke-width="0.9"/>
<line x1="434.40" y1="294.47" x2="438.60" y2="294.47" stroke="#222" stroke-width="1.0"/>
<line x1="436.50" y1="361.00" x2="436.50" y2="363.60" stroke="#1a1a1a" stroke-width="0.9"/>
<rect x="450.60" y="341.23" width="13.20" height="19.77" fill="#a30129"/>
<line x1="457.20" y1="341.23" x2="457.20" y2="333.28" stroke="#222" stroke-width="0.9"/>
<line x1="455.10" y1="333.28" x2="459.30" y2="333.28" stroke="#222" stroke-width="1.0"/>
<line x1="457.20" y1="361.00" x2="457.20" y2="363.60" stroke="#1a1a1a" stroke-width="0.9"/>
<rect x="471.10" y="354.16" width="13.20" height="6.84" fill="#a30129"/>
<line x1="477.70" y1="354.16" x2="477.70" y2="347.51" stroke="#222" stroke-width="0.9"/>
<line x1="475.60" y1="347.51" x2="479.80" y2="347.51" stroke="#222" stroke-width="1.0"/>
<line x1="477.70" y1="361.00" x2="477.70" y2="363.60" stroke="#1a1a1a" stroke-width="0.9"/>
<rect x="491.80" y="355.09" width="13.20" height="5.91" fill="#a30129"/>
<line x1="498.40" y1="355.09" x2="498.40" y2="349.36" stroke="#222" stroke-width="0.9"/>
<line x1="496.30" y1="349.36" x2="500.50" y2="349.36" stroke="#222" stroke-width="1.0"/>
<line x1="498.40" y1="361.00" x2="498.40" y2="363.60" stroke="#1a1a1a" stroke-width="0.9"/>
<path d="M436.50 282.90V274.50H498.50V341.60" stroke="#333" stroke-width="1" fill="none"/>
<circle cx="467.50" cy="270.80" r="1.05" fill="#262626"/>
<path d="M436.50 289.60V286.50H478.50V341.70" stroke="#333" stroke-width="1" fill="none"/>
<circle cx="457.50" cy="282.40" r="1.05" fill="#262626"/>
<text x="467.50" y="243.40" font-size="9.6" text-anchor="middle" fill="#1a1a1a" color="#1a1a1a">Collagen (2 µg/ml)</text>
<text x="399.70" y="314.00" font-size="10" text-anchor="middle" fill="#1a1a1a" color="#1a1a1a" font-weight="bold" textLength="58.0" lengthAdjust="spacingAndGlyphs" transform="rotate(-90 399.70 314.00)" class="cond">ATP secretion (nM)</text>
<text x="440.50" y="369.60" font-size="8.2" text-anchor="end" fill="#1a1a1a" color="#1a1a1a" transform="rotate(-44 440.50 369.60)">Vehicle ctrl</text>
<text x="461.20" y="369.60" font-size="8.2" text-anchor="end" fill="#1a1a1a" color="#1a1a1a" transform="rotate(-44 461.20 369.60)">DPA<tspan font-size="6" dy="2.0">n-6</tspan></text>
<text x="481.70" y="369.60" font-size="8.2" text-anchor="end" fill="#1a1a1a" color="#1a1a1a" transform="rotate(-44 481.70 369.60)">11-HpDPA<tspan font-size="6" dy="2.0">n-6</tspan></text>
<text x="502.40" y="369.60" font-size="8.2" text-anchor="end" fill="#1a1a1a" color="#1a1a1a" transform="rotate(-44 502.40 369.60)">14-HpDPA<tspan font-size="6" dy="2.0">n-6</tspan></text>
<line x1="298.30" y1="467.30" x2="298.30" y2="559.90" stroke="#1a1a1a" stroke-width="1.4"/>
<line x1="297.60" y1="559.20" x2="388.60" y2="559.20" stroke="#1a1a1a" stroke-width="1.4"/>
<line x1="294.90" y1="559.20" x2="298.30" y2="559.20" stroke="#1a1a1a" stroke-width="1"/>
<text x="292.40" y="562.10" font-size="8.2" text-anchor="end" fill="#1a1a1a" color="#1a1a1a">0</text>
<line x1="294.90" y1="541.36" x2="298.30" y2="541.36" stroke="#1a1a1a" stroke-width="1"/>
<text x="292.40" y="544.26" font-size="8.2" text-anchor="end" fill="#1a1a1a" color="#1a1a1a">25</text>
<line x1="294.90" y1="523.52" x2="298.30" y2="523.52" stroke="#1a1a1a" stroke-width="1"/>
<text x="292.40" y="526.42" font-size="8.2" text-anchor="end" fill="#1a1a1a" color="#1a1a1a">50</text>
<line x1="294.90" y1="505.68" x2="298.30" y2="505.68" stroke="#1a1a1a" stroke-width="1"/>
<text x="292.40" y="508.58" font-size="8.2" text-anchor="end" fill="#1a1a1a" color="#1a1a1a">75</text>
<line x1="294.90" y1="487.84" x2="298.30" y2="487.84" stroke="#1a1a1a" stroke-width="1"/>
<text x="292.40" y="490.74" font-size="8.2" text-anchor="end" fill="#1a1a1a" color="#1a1a1a">100</text>
<line x1="294.90" y1="470.00" x2="298.30" y2="470.00" stroke="#1a1a1a" stroke-width="1"/>
<text x="292.40" y="472.90" font-size="8.2" text-anchor="end" fill="#1a1a1a" color="#1a1a1a">125</text>
<rect x="304.40" y="518.31" width="10.60" height="40.89" fill="#a30129"/>
<line x1="309.70" y1="518.31" x2="309.70" y2="516.38" stroke="#222" stroke-width="0.9"/>
<line x1="308.00" y1="516.38" x2="311.40" y2="516.38" stroke="#222" stroke-width="1.0"/>
<line x1="309.70" y1="559.20" x2="309.70" y2="561.80" stroke="#1a1a1a" stroke-width="0.9"/>
<rect x="321.20" y="487.20" width="10.60" height="72.00" fill="#a30129"/>
<line x1="326.50" y1="487.20" x2="326.50" y2="484.99" stroke="#222" stroke-width="0.9"/>
<line x1="324.80" y1="484.99" x2="328.20" y2="484.99" stroke="#222" stroke-width="1.0"/>
<line x1="326.50" y1="559.20" x2="326.50" y2="561.80" stroke="#1a1a1a" stroke-width="0.9"/>
<rect x="337.90" y="499.26" width="10.60" height="59.94" fill="#a30129"/>
<line x1="343.20" y1="499.26" x2="343.20" y2="497.62" stroke="#222" stroke-width="0.9"/>
<line x1="341.50" y1="497.62" x2="344.90" y2="497.62" stroke="#222" stroke-width="1.0"/>
<line x1="343.20" y1="559.20" x2="343.20" y2="561.80" stroke="#1a1a1a" stroke-width="0.9"/>
<rect x="354.50" y="501.61" width="10.60" height="57.59" fill="#a30129"/>
<line x1="359.80" y1="501.61" x2="359.80" y2="500.40" stroke="#222" stroke-width="0.9"/>
<line x1="358.10" y1="500.40" x2="361.50" y2="500.40" stroke="#222" stroke-width="1.0"/>
<line x1="359.80" y1="559.20" x2="359.80" y2="561.80" stroke="#1a1a1a" stroke-width="0.9"/>
<rect x="371.20" y="494.12" width="10.60" height="65.08" fill="#a30129"/>
<line x1="376.50" y1="494.12" x2="376.50" y2="489.98" stroke="#222" stroke-width="0.9"/>
<line x1="374.80" y1="489.98" x2="378.20" y2="489.98" stroke="#222" stroke-width="1.0"/>
<line x1="376.50" y1="559.20" x2="376.50" y2="561.80" stroke="#1a1a1a" stroke-width="0.9"/>
<path d="M325.50 465.50V460.50H376.50V485.90" stroke="#333" stroke-width="1" fill="none"/>
<circle cx="351.40" cy="456.30" r="1.05" fill="#262626"/>
<path d="M325.50 475.10V471.50H359.50V495.10" stroke="#333" stroke-width="1" fill="none"/>
<circle cx="337.45" cy="467.00" r="1.05" fill="#262626"/>
<circle cx="340.95" cy="467.00" r="1.05" fill="#262626"/>
<circle cx="344.45" cy="467.00" r="1.05" fill="#262626"/>
<circle cx="347.95" cy="467.00" r="1.05" fill="#262626"/>
<path d="M325.50 482.90V480.50H343.50V495.50" stroke="#333" stroke-width="1" fill="none"/>
<circle cx="331.40" cy="476.30" r="1.05" fill="#262626"/>
<circle cx="334.90" cy="476.30" r="1.05" fill="#262626"/>
<circle cx="338.40" cy="476.30" r="1.05" fill="#262626"/>
<text x="343.20" y="449.00" font-size="9.6" text-anchor="middle" fill="#1a1a1a" color="#1a1a1a">Thrombin (0.5 nM)</text>
<text x="261.40" y="511.50" font-size="10" text-anchor="middle" fill="#1a1a1a" color="#1a1a1a" font-weight="bold" textLength="62.5" lengthAdjust="spacingAndGlyphs" transform="rotate(-90 261.40 511.50)" class="cond">α-granule secretion</text>
<text x="272.30" y="511.00" font-size="10" text-anchor="middle" fill="#1a1a1a" color="#1a1a1a" font-weight="bold" textLength="55.3" lengthAdjust="spacingAndGlyphs" transform="rotate(-90 272.30 511.00)" class="cond">(CD62P-FITC MFI)</text>
<text x="313.70" y="568.20" font-size="8.2" text-anchor="end" fill="#1a1a1a" color="#1a1a1a" transform="rotate(-44 313.70 568.20)">Resting</text>
<text x="330.50" y="568.20" font-size="8.2" text-anchor="end" fill="#1a1a1a" color="#1a1a1a" transform="rotate(-44 330.50 568.20)">Vehicle ctrl</text>
<text x="347.20" y="568.20" font-size="8.2" text-anchor="end" fill="#1a1a1a" color="#1a1a1a" transform="rotate(-44 347.20 568.20)">DPA<tspan font-size="6" dy="2.0">n-6</tspan></text>
<text x="363.80" y="568.20" font-size="8.2" text-anchor="end" fill="#1a1a1a" color="#1a1a1a" transform="rotate(-44 363.80 568.20)">11-HpDPA<tspan font-size="6" dy="2.0">n-6</tspan></text>
<text x="380.50" y="568.20" font-size="8.2" text-anchor="end" fill="#1a1a1a" color="#1a1a1a" transform="rotate(-44 380.50 568.20)">14-HpDPA<tspan font-size="6" dy="2.0">n-6</tspan></text>
</svg>
<div id="frame"></div>
</body></html>
